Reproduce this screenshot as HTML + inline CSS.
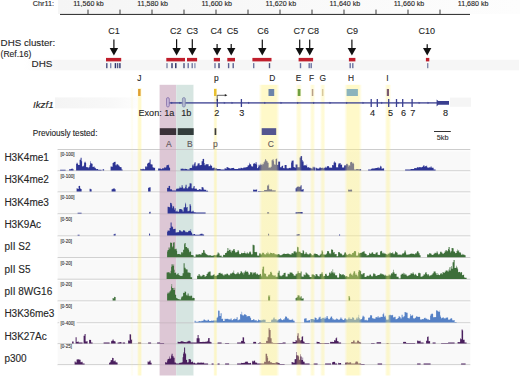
<!DOCTYPE html>
<html><head><meta charset="utf-8"><style>
html,body{margin:0;padding:0;background:#fff;}
svg{display:block;font-family:"Liberation Sans", sans-serif;}
text{stroke-width:0.12px;}
</style></head><body>
<svg width="520" height="377" viewBox="0 0 520 377">
<rect width="520" height="377" fill="#fff"/>
<defs><linearGradient id="rb" x1="0" x2="1" y1="0" y2="0"><stop offset="0" stop-color="#f5f5f5"/><stop offset="0.5" stop-color="#f9f9f9"/><stop offset="1" stop-color="#fdfdfd"/></linearGradient></defs>
<rect x="58" y="0" width="462" height="14" fill="url(#rb)"/>
<defs><linearGradient id="gb" x1="0" x2="1" y1="0" y2="0"><stop offset="0" stop-color="#f6f6f6" stop-opacity="0"/><stop offset="0.07" stop-color="#f6f6f6" stop-opacity="1"/><stop offset="1" stop-color="#f6f6f6"/></linearGradient></defs>
<rect x="24" y="59.8" width="495" height="10.5" fill="url(#gb)"/>
<defs><linearGradient id="gn" x1="0" x2="1" y1="0" y2="0"><stop offset="0" stop-color="#f4f4f4"/><stop offset="0.7" stop-color="#f8f8f8"/><stop offset="1" stop-color="#fdfdfd"/></linearGradient></defs>
<rect x="55" y="97.4" width="82" height="11.0" fill="url(#gn)"/>
<rect x="450" y="97.6" width="21" height="9.2" fill="#f5f5f5"/>
<rect x="57.6" y="149.60" width="412.70" height="21.30" fill="#f9f9f9"/>
<rect x="57.6" y="170.90" width="412.70" height="21.10" fill="#f9f9f9"/>
<rect x="57.6" y="192.00" width="412.70" height="21.90" fill="#f9f9f9"/>
<rect x="57.6" y="213.90" width="412.70" height="22.10" fill="#f9f9f9"/>
<rect x="57.6" y="236.00" width="412.70" height="21.70" fill="#f9f9f9"/>
<rect x="57.6" y="257.70" width="412.70" height="21.60" fill="#f9f9f9"/>
<rect x="57.6" y="279.30" width="412.70" height="21.70" fill="#f9f9f9"/>
<rect x="57.6" y="301.00" width="412.70" height="21.90" fill="#f9f9f9"/>
<rect x="57.6" y="322.90" width="412.70" height="20.90" fill="#f9f9f9"/>
<rect x="57.6" y="343.80" width="412.70" height="21.00" fill="#f9f9f9"/>
<rect x="57.6" y="149.00" width="412.70" height="1.1" fill="#cdcdcd"/>
<rect x="57.6" y="150.10" width="412.70" height="1.2" fill="#fefefe"/>
<rect x="57.6" y="170.30" width="412.70" height="1.1" fill="#cdcdcd"/>
<rect x="57.6" y="171.40" width="412.70" height="1.2" fill="#fefefe"/>
<rect x="57.6" y="191.40" width="412.70" height="1.1" fill="#cdcdcd"/>
<rect x="57.6" y="192.50" width="412.70" height="1.2" fill="#fefefe"/>
<rect x="57.6" y="213.30" width="412.70" height="1.1" fill="#cdcdcd"/>
<rect x="57.6" y="214.40" width="412.70" height="1.2" fill="#fefefe"/>
<rect x="57.6" y="235.40" width="412.70" height="1.1" fill="#cdcdcd"/>
<rect x="57.6" y="236.50" width="412.70" height="1.2" fill="#fefefe"/>
<rect x="57.6" y="257.10" width="412.70" height="1.1" fill="#cdcdcd"/>
<rect x="57.6" y="258.20" width="412.70" height="1.2" fill="#fefefe"/>
<rect x="57.6" y="278.70" width="412.70" height="1.1" fill="#cdcdcd"/>
<rect x="57.6" y="279.80" width="412.70" height="1.2" fill="#fefefe"/>
<rect x="57.6" y="300.40" width="412.70" height="1.1" fill="#cdcdcd"/>
<rect x="57.6" y="301.50" width="412.70" height="1.2" fill="#fefefe"/>
<rect x="57.6" y="322.30" width="412.70" height="1.1" fill="#cdcdcd"/>
<rect x="57.6" y="323.40" width="412.70" height="1.2" fill="#fefefe"/>
<rect x="57.6" y="343.20" width="412.70" height="1.1" fill="#cdcdcd"/>
<rect x="57.6" y="344.30" width="412.70" height="1.2" fill="#fefefe"/>
<rect x="57.6" y="364.20" width="412.70" height="1.1" fill="#cdcdcd"/>
<rect x="57.6" y="365.30" width="412.70" height="1.2" fill="#fefefe"/>
<rect x="159.6" y="84.8" width="16.6" height="290.7" fill="#ddc7d5"/>
<rect x="176.2" y="84.8" width="17.2" height="290.7" fill="#d6e5e1"/>
<rect x="193.4" y="84.8" width="0.6" height="290.7" fill="#eaf2f0"/>
<rect x="159.6" y="149.10" width="34" height="0.9" fill="#b8a8b2" fill-opacity="0.5"/>
<rect x="159.6" y="170.40" width="34" height="0.9" fill="#b8a8b2" fill-opacity="0.5"/>
<rect x="159.6" y="191.50" width="34" height="0.9" fill="#b8a8b2" fill-opacity="0.5"/>
<rect x="159.6" y="213.40" width="34" height="0.9" fill="#b8a8b2" fill-opacity="0.5"/>
<rect x="159.6" y="235.50" width="34" height="0.9" fill="#b8a8b2" fill-opacity="0.5"/>
<rect x="159.6" y="257.20" width="34" height="0.9" fill="#b8a8b2" fill-opacity="0.5"/>
<rect x="159.6" y="278.80" width="34" height="0.9" fill="#b8a8b2" fill-opacity="0.5"/>
<rect x="159.6" y="300.50" width="34" height="0.9" fill="#b8a8b2" fill-opacity="0.5"/>
<rect x="159.6" y="322.40" width="34" height="0.9" fill="#b8a8b2" fill-opacity="0.5"/>
<rect x="159.6" y="343.30" width="34" height="0.9" fill="#b8a8b2" fill-opacity="0.5"/>
<rect x="159.6" y="364.30" width="34" height="0.9" fill="#b8a8b2" fill-opacity="0.5"/>
<path d="M60.10 170.50L60.10 169.80L60.60 169.80L60.60 169.80L61.10 169.80L61.10 169.80L61.60 169.80L61.60 169.80L62.10 169.80L62.10 169.80L62.60 169.80L62.60 169.80L63.10 169.80L63.10 169.80L63.60 169.80L63.60 169.80L64.10 169.80L64.10 169.80L64.60 169.80L64.60 169.80L65.10 169.80L65.10 169.80L65.60 169.80L65.60 170.50ZM69.10 170.50L69.10 169.30L69.60 169.30L69.60 169.30L70.10 169.30L70.10 169.30L70.60 169.30L70.60 169.30L71.10 169.30L71.10 168.97L71.60 168.97L71.60 168.59L72.10 168.59L72.10 168.59L72.60 168.59L72.60 169.30L73.10 169.30L73.10 169.30L73.60 169.30L73.60 170.50ZM76.10 170.50L76.10 164.08L76.60 164.08L76.60 162.66L77.10 162.66L77.10 162.66L77.60 162.66L77.60 163.96L78.10 163.96L78.10 164.96L78.60 164.96L78.60 164.90L79.10 164.90L79.10 164.90L79.60 164.90L79.60 159.76L80.10 159.76L80.10 159.76L80.60 159.76L80.60 157.78L81.10 157.78L81.10 157.78L81.60 157.78L81.60 161.23L82.10 161.23L82.10 166.54L82.60 166.54L82.60 166.33L83.10 166.33L83.10 166.33L83.60 166.33L83.60 165.48L84.10 165.48L84.10 162.77L84.60 162.77L84.60 161.74L85.10 161.74L85.10 161.74L85.60 161.74L85.60 162.94L86.10 162.94L86.10 167.06L86.60 167.06L86.60 167.33L87.10 167.33L87.10 167.33L87.60 167.33L87.60 167.28L88.10 167.28L88.10 167.28L88.60 167.28L88.60 168.37L89.10 168.37L89.10 166.70L89.60 166.70L89.60 165.00L90.10 165.00L90.10 161.15L90.60 161.15L90.60 163.18L91.10 163.18L91.10 163.18L91.60 163.18L91.60 163.70L92.10 163.70L92.10 163.70L92.60 163.70L92.60 166.95L93.10 166.95L93.10 166.95L93.60 166.95L93.60 166.59L94.10 166.59L94.10 166.59L94.60 166.59L94.60 167.79L95.10 167.79L95.10 167.79L95.60 167.79L95.60 168.46L96.10 168.46L96.10 169.28L96.60 169.28L96.60 169.02L97.10 169.02L97.10 169.02L97.60 169.02L97.60 168.99L98.10 168.99L98.10 169.70L98.60 169.70L98.60 169.70L99.10 169.70L99.10 169.70L99.60 169.70L99.60 169.70L100.10 169.70L100.10 169.70L100.60 169.70L100.60 169.70L101.10 169.70L101.10 169.70L101.60 169.70L101.60 170.50ZM102.60 170.50L102.60 169.35L103.10 169.35L103.10 169.35L103.60 169.35L103.60 169.26L104.10 169.26L104.10 170.50ZM110.60 170.50L110.60 166.40L111.10 166.40L111.10 166.40L111.60 166.40L111.60 166.82L112.10 166.82L112.10 166.82L112.60 166.82L112.60 162.91L113.10 162.91L113.10 162.91L113.60 162.91L113.60 161.92L114.10 161.92L114.10 161.92L114.60 161.92L114.60 161.75L115.10 161.75L115.10 161.75L115.60 161.75L115.60 165.30L116.10 165.30L116.10 165.30L116.60 165.30L116.60 164.06L117.10 164.06L117.10 164.06L117.60 164.06L117.60 164.82L118.10 164.82L118.10 164.82L118.60 164.82L118.60 165.87L119.10 165.87L119.10 165.87L119.60 165.87L119.60 167.07L120.10 167.07L120.10 167.07L120.60 167.07L120.60 167.14L121.10 167.14L121.10 167.14L121.60 167.14L121.60 169.50L122.10 169.50L122.10 169.50L122.60 169.50L122.60 170.50ZM140.10 170.50L140.10 168.84L140.60 168.84L140.60 168.93L141.10 168.93L141.10 168.93L141.60 168.93L141.60 169.21L142.10 169.21L142.10 169.21L142.60 169.21L142.60 168.77L143.10 168.77L143.10 168.77L143.60 168.77L143.60 169.32L144.10 169.32L144.10 169.32L144.60 169.32L144.60 169.13L145.10 169.13L145.10 166.84L145.60 166.84L145.60 166.27L146.10 166.27L146.10 166.27L146.60 166.27L146.60 167.28L147.10 167.28L147.10 164.07L147.60 164.07L147.60 162.94L148.10 162.94L148.10 162.94L148.60 162.94L148.60 162.41L149.10 162.41L149.10 162.41L149.60 162.41L149.60 159.58L150.10 159.58L150.10 159.58L150.60 159.58L150.60 164.13L151.10 164.13L151.10 164.13L151.60 164.13L151.60 164.62L152.10 164.62L152.10 164.62L152.60 164.62L152.60 167.18L153.10 167.18L153.10 167.18L153.60 167.18L153.60 167.88L154.10 167.88L154.10 167.88L154.60 167.88L154.60 167.40L155.10 167.40L155.10 170.50ZM158.10 170.50L158.10 168.44L158.60 168.44L158.60 168.52L159.10 168.52L159.10 168.52L159.60 168.52L159.60 168.53L160.10 168.53L160.10 168.53L160.60 168.53L160.60 168.64L161.10 168.64L161.10 169.29L161.60 169.29L161.60 169.08L162.10 169.08L162.10 168.31L162.60 168.31L162.60 168.23L163.10 168.23L163.10 168.23L163.60 168.23L163.60 168.62L164.10 168.62L164.10 167.40L164.60 167.40L164.60 167.14L165.10 167.14L165.10 167.14L165.60 167.14L165.60 167.97L166.10 167.97L166.10 166.52L166.60 166.52L166.60 165.12L167.10 165.12L167.10 165.12L167.60 165.12L167.60 165.24L168.10 165.24L168.10 165.24L168.60 165.24L168.60 164.48L169.10 164.48L169.10 167.61L169.60 167.61L169.60 167.79L170.10 167.79L170.10 170.50ZM180.60 170.50L180.60 168.78L181.10 168.78L181.10 168.78L181.60 168.78L181.60 168.70L182.10 168.70L182.10 168.70L182.60 168.70L182.60 168.46L183.10 168.46L183.10 168.66L183.60 168.66L183.60 169.15L184.10 169.15L184.10 169.15L184.60 169.15L184.60 168.82L185.10 168.82L185.10 168.82L185.60 168.82L185.60 169.04L186.10 169.04L186.10 169.04L186.60 169.04L186.60 169.08L187.10 169.08L187.10 169.50L187.60 169.50L187.60 169.50L188.10 169.50L188.10 169.50L188.60 169.50L188.60 169.50L189.10 169.50L189.10 169.50L189.60 169.50L189.60 168.12L190.10 168.12L190.10 168.12L190.60 168.12L190.60 167.97L191.10 167.97L191.10 167.97L191.60 167.97L191.60 167.79L192.10 167.79L192.10 165.53L192.60 165.53L192.60 164.42L193.10 164.42L193.10 164.42L193.60 164.42L193.60 166.24L194.10 166.24L194.10 163.61L194.60 163.61L194.60 162.23L195.10 162.23L195.10 162.23L195.60 162.23L195.60 166.13L196.10 166.13L196.10 166.13L196.60 166.13L196.60 165.50L197.10 165.50L197.10 165.50L197.60 165.50L197.60 163.45L198.10 163.45L198.10 163.45L198.60 163.45L198.60 163.33L199.10 163.33L199.10 163.33L199.60 163.33L199.60 165.36L200.10 165.36L200.10 165.36L200.60 165.36L200.60 165.01L201.10 165.01L201.10 165.01L201.60 165.01L201.60 161.33L202.10 161.33L202.10 161.33L202.60 161.33L202.60 159.05L203.10 159.05L203.10 159.05L203.60 159.05L203.60 158.73L204.10 158.73L204.10 163.08L204.60 163.08L204.60 165.28L205.10 165.28L205.10 165.28L205.60 165.28L205.60 164.31L206.10 164.31L206.10 164.31L206.60 164.31L206.60 164.14L207.10 164.14L207.10 164.14L207.60 164.14L207.60 164.13L208.10 164.13L208.10 164.13L208.60 164.13L208.60 166.25L209.10 166.25L209.10 166.25L209.60 166.25L209.60 166.06L210.10 166.06L210.10 164.58L210.60 164.58L210.60 165.40L211.10 165.40L211.10 165.40L211.60 165.40L211.60 166.05L212.10 166.05L212.10 168.27L212.60 168.27L212.60 167.75L213.10 167.75L213.10 167.75L213.60 167.75L213.60 167.81L214.10 167.81L214.10 167.81L214.60 167.81L214.60 167.57L215.10 167.57L215.10 168.54L215.60 168.54L215.60 168.22L216.10 168.22L216.10 168.22L216.60 168.22L216.60 168.44L217.10 168.44L217.10 168.95L217.60 168.95L217.60 169.07L218.10 169.07L218.10 169.07L218.60 169.07L218.60 169.00L219.10 169.00L219.10 169.00L219.60 169.00L219.60 168.96L220.10 168.96L220.10 168.96L220.60 168.96L220.60 169.60L221.10 169.60L221.10 169.60L221.60 169.60L221.60 169.60L222.10 169.60L222.10 169.60L222.60 169.60L222.60 169.60L223.10 169.60L223.10 169.60L223.60 169.60L223.60 169.60L224.10 169.60L224.10 169.60L224.60 169.60L224.60 168.35L225.10 168.35L225.10 168.35L225.60 168.35L225.60 168.69L226.10 168.69L226.10 168.69L226.60 168.69L226.60 167.05L227.10 167.05L227.10 167.05L227.60 167.05L227.60 167.52L228.10 167.52L228.10 167.52L228.60 167.52L228.60 167.98L229.10 167.98L229.10 167.98L229.60 167.98L229.60 168.58L230.10 168.58L230.10 168.58L230.60 168.58L230.60 168.58L231.10 168.58L231.10 168.20L231.60 168.20L231.60 168.02L232.10 168.02L232.10 168.02L232.60 168.02L232.60 168.08L233.10 168.08L233.10 168.08L233.60 168.08L233.60 167.85L234.10 167.85L234.10 168.73L234.60 168.73L234.60 168.98L235.10 168.98L235.10 168.98L235.60 168.98L235.60 169.02L236.10 169.02L236.10 169.02L236.60 169.02L236.60 168.89L237.10 168.89L237.10 168.89L237.60 168.89L237.60 168.93L238.10 168.93L238.10 168.54L238.60 168.54L238.60 168.27L239.10 168.27L239.10 168.27L239.60 168.27L239.60 168.62L240.10 168.62L240.10 168.62L240.60 168.62L240.60 167.73L241.10 167.73L241.10 167.73L241.60 167.73L241.60 168.01L242.10 168.01L242.10 168.01L242.60 168.01L242.60 168.49L243.10 168.49L243.10 167.69L243.60 167.69L243.60 167.54L244.10 167.54L244.10 167.54L244.60 167.54L244.60 167.40L245.10 167.40L245.10 167.40L245.60 167.40L245.60 167.37L246.10 167.37L246.10 167.37L246.60 167.37L246.60 166.94L247.10 166.94L247.10 166.94L247.60 166.94L247.60 165.57L248.10 165.57L248.10 165.57L248.60 165.57L248.60 165.29L249.10 165.29L249.10 162.75L249.60 162.75L249.60 164.23L250.10 164.23L250.10 164.23L250.60 164.23L250.60 164.18L251.10 164.18L251.10 165.78L251.60 165.78L251.60 166.62L252.10 166.62L252.10 166.62L252.60 166.62L252.60 166.59L253.10 166.59L253.10 164.08L253.60 164.08L253.60 163.25L254.10 163.25L254.10 163.25L254.60 163.25L254.60 163.52L255.10 163.52L255.10 164.12L255.60 164.12L255.60 162.34L256.10 162.34L256.10 162.34L256.60 162.34L256.60 164.44L257.10 164.44L257.10 168.08L257.60 168.08L257.60 168.25L258.10 168.25L258.10 166.75L258.60 166.75L258.60 164.80L259.10 164.80L259.10 164.80L259.60 164.80L259.60 165.69L260.10 165.69L260.10 163.77L260.60 163.77L260.60 164.89L261.10 164.89L261.10 164.89L261.60 164.89L261.60 163.72L262.10 163.72L262.10 163.72L262.60 163.72L262.60 165.24L263.10 165.24L263.10 164.11L263.60 164.11L263.60 162.32L264.10 162.32L264.10 162.32L264.60 162.32L264.60 160.72L265.10 160.72L265.10 158.99L265.60 158.99L265.60 159.47L266.10 159.47L266.10 160.58L266.60 160.58L266.60 161.21L267.10 161.21L267.10 161.21L267.60 161.21L267.60 162.85L268.10 162.85L268.10 162.85L268.60 162.85L268.60 167.82L269.10 167.82L269.10 167.37L269.60 167.37L269.60 167.66L270.10 167.66L270.10 167.66L270.60 167.66L270.60 166.78L271.10 166.78L271.10 166.78L271.60 166.78L271.60 160.28L272.10 160.28L272.10 160.28L272.60 160.28L272.60 159.19L273.10 159.19L273.10 159.19L273.60 159.19L273.60 161.19L274.10 161.19L274.10 164.35L274.60 164.35L274.60 164.66L275.10 164.66L275.10 164.66L275.60 164.66L275.60 159.04L276.10 159.04L276.10 159.04L276.60 159.04L276.60 158.27L277.10 158.27L277.10 164.73L277.60 164.73L277.60 165.01L278.10 165.01L278.10 161.50L278.60 161.50L278.60 161.66L279.10 161.66L279.10 161.66L279.60 161.66L279.60 161.61L280.10 161.61L280.10 167.25L280.60 167.25L280.60 167.35L281.10 167.35L281.10 167.35L281.60 167.35L281.60 166.07L282.10 166.07L282.10 166.07L282.60 166.07L282.60 165.43L283.10 165.43L283.10 168.11L283.60 168.11L283.60 168.28L284.10 168.28L284.10 168.28L284.60 168.28L284.60 165.08L285.10 165.08L285.10 165.08L285.60 165.08L285.60 165.09L286.10 165.09L286.10 165.09L286.60 165.09L286.60 168.36L287.10 168.36L287.10 168.36L287.60 168.36L287.60 168.38L288.10 168.38L288.10 168.38L288.60 168.38L288.60 167.92L289.10 167.92L289.10 167.92L289.60 167.92L289.60 167.65L290.10 167.65L290.10 167.65L290.60 167.65L290.60 168.18L291.10 168.18L291.10 162.43L291.60 162.43L291.60 160.64L292.10 160.64L292.10 160.64L292.60 160.64L292.60 160.45L293.10 160.45L293.10 160.45L293.60 160.45L293.60 167.08L294.10 167.08L294.10 167.08L294.60 167.08L294.60 167.82L295.10 167.82L295.10 167.82L295.60 167.82L295.60 164.51L296.10 164.51L296.10 164.51L296.60 164.51L296.60 164.49L297.10 164.49L297.10 164.49L297.60 164.49L297.60 167.21L298.10 167.21L298.10 167.21L298.60 167.21L298.60 167.20L299.10 167.20L299.10 167.20L299.60 167.20L299.60 157.47L300.10 157.47L300.10 157.47L300.60 157.47L300.60 155.96L301.10 155.96L301.10 155.96L301.60 155.96L301.60 156.29L302.10 156.29L302.10 160.01L302.60 160.01L302.60 161.46L303.10 161.46L303.10 161.46L303.60 161.46L303.60 165.43L304.10 165.43L304.10 165.43L304.60 165.43L304.60 165.12L305.10 165.12L305.10 165.12L305.60 165.12L305.60 165.85L306.10 165.85L306.10 165.85L306.60 165.85L306.60 164.40L307.10 164.40L307.10 167.45L307.60 167.45L307.60 167.13L308.10 167.13L308.10 167.13L308.60 167.13L308.60 167.29L309.10 167.29L309.10 167.83L309.60 167.83L309.60 167.86L310.10 167.86L310.10 167.86L310.60 167.86L310.60 168.15L311.10 168.15L311.10 168.15L311.60 168.15L311.60 168.46L312.10 168.46L312.10 168.46L312.60 168.46L312.60 166.75L313.10 166.75L313.10 166.75L313.60 166.75L313.60 167.42L314.10 167.42L314.10 167.42L314.60 167.42L314.60 166.73L315.10 166.73L315.10 170.50ZM315.60 170.50L315.60 167.63L316.10 167.63L316.10 167.63L316.60 167.63L316.60 168.23L317.10 168.23L317.10 168.23L317.60 168.23L317.60 168.68L318.10 168.68L318.10 168.68L318.60 168.68L318.60 168.22L319.10 168.22L319.10 168.22L319.60 168.22L319.60 167.37L320.10 167.37L320.10 167.37L320.60 167.37L320.60 168.07L321.10 168.07L321.10 168.07L321.60 168.07L321.60 167.72L322.10 167.72L322.10 167.72L322.60 167.72L322.60 167.69L323.10 167.69L323.10 168.49L323.60 168.49L323.60 167.70L324.10 167.70L324.10 167.70L324.60 167.70L324.60 167.80L325.10 167.80L325.10 166.72L325.60 166.72L325.60 167.70L326.10 167.70L326.10 167.70L326.60 167.70L326.60 166.70L327.10 166.70L327.10 166.15L327.60 166.15L327.60 165.89L328.10 165.89L328.10 165.89L328.60 165.89L328.60 166.44L329.10 166.44L329.10 167.45L329.60 167.45L329.60 167.84L330.10 167.84L330.10 167.84L330.60 167.84L330.60 167.59L331.10 167.59L331.10 167.59L331.60 167.59L331.60 168.11L332.10 168.11L332.10 164.93L332.60 164.93L332.60 165.28L333.10 165.28L333.10 165.28L333.60 165.28L333.60 162.47L334.10 162.47L334.10 161.32L334.60 161.32L334.60 162.40L335.10 162.40L335.10 162.40L335.60 162.40L335.60 162.81L336.10 162.81L336.10 167.62L336.60 167.62L336.60 167.10L337.10 167.10L337.10 167.10L337.60 167.10L337.60 167.73L338.10 167.73L338.10 164.51L338.60 164.51L338.60 163.31L339.10 163.31L339.10 163.31L339.60 163.31L339.60 163.43L340.10 163.43L340.10 162.89L340.60 162.89L340.60 164.70L341.10 164.70L341.10 164.70L341.60 164.70L341.60 164.58L342.10 164.58L342.10 167.54L342.60 167.54L342.60 167.48L343.10 167.48L343.10 167.48L343.60 167.48L343.60 167.56L344.10 167.56L344.10 165.87L344.60 165.87L344.60 165.08L345.10 165.08L345.10 165.08L345.60 165.08L345.60 165.83L346.10 165.83L346.10 164.13L346.60 164.13L346.60 163.63L347.10 163.63L347.10 163.63L347.60 163.63L347.60 164.54L348.10 164.54L348.10 166.52L348.60 166.52L348.60 164.89L349.10 164.89L349.10 164.89L349.60 164.89L349.60 166.06L350.10 166.06L350.10 162.50L350.60 162.50L350.60 162.11L351.10 162.11L351.10 162.11L351.60 162.11L351.60 161.63L352.10 161.63L352.10 163.60L352.60 163.60L352.60 162.66L353.10 162.66L353.10 162.66L353.60 162.66L353.60 164.08L354.10 164.08L354.10 169.50L354.60 169.50L354.60 169.50L355.10 169.50L355.10 169.50L355.60 169.50L355.60 169.50L356.10 169.50L356.10 169.07L356.60 169.07L356.60 169.05L357.10 169.05L357.10 169.05L357.60 169.05L357.60 169.06L358.10 169.06L358.10 169.06L358.60 169.06L358.60 169.38L359.10 169.38L359.10 169.38L359.60 169.38L359.60 169.11L360.10 169.11L360.10 169.11L360.60 169.11L360.60 169.27L361.10 169.27L361.10 170.50ZM368.10 170.50L368.10 169.50L368.60 169.50L368.60 169.50L369.10 169.50L369.10 169.50L369.60 169.50L369.60 169.50L370.10 169.50L370.10 169.50L370.60 169.50L370.60 169.50L371.10 169.50L371.10 168.88L371.60 168.88L371.60 168.62L372.10 168.62L372.10 168.62L372.60 168.62L372.60 168.41L373.10 168.41L373.10 168.41L373.60 168.41L373.60 168.55L374.10 168.55L374.10 168.55L374.60 168.55L374.60 168.31L375.10 168.31L375.10 168.31L375.60 168.31L375.60 168.11L376.10 168.11L376.10 168.11L376.60 168.11L376.60 168.07L377.10 168.07L377.10 168.07L377.60 168.07L377.60 167.29L378.10 167.29L378.10 167.29L378.60 167.29L378.60 168.15L379.10 168.15L379.10 168.15L379.60 168.15L379.60 167.57L380.10 167.57L380.10 165.82L380.60 165.82L380.60 166.45L381.10 166.45L381.10 166.45L381.60 166.45L381.60 168.79L382.10 168.79L382.10 168.79L382.60 168.79L382.60 168.37L383.10 168.37L383.10 168.37L383.60 168.37L383.60 168.59L384.10 168.59L384.10 170.50ZM405.10 170.50L405.10 169.50L405.60 169.50L405.60 169.50L406.10 169.50L406.10 169.50L406.60 169.50L406.60 169.50L407.10 169.50L407.10 169.50L407.60 169.50L407.60 169.50L408.10 169.50L408.10 169.50L408.60 169.50L408.60 169.50L409.10 169.50L409.10 169.50L409.60 169.50L409.60 169.50L410.10 169.50L410.10 169.50L410.60 169.50L410.60 169.07L411.10 169.07L411.10 169.07L411.60 169.07L411.60 169.07L412.10 169.07L412.10 169.07L412.60 169.07L412.60 168.95L413.10 168.95L413.10 168.95L413.60 168.95L413.60 169.11L414.10 169.11L414.10 168.18L414.60 168.18L414.60 168.09L415.10 168.09L415.10 168.09L415.60 168.09L415.60 168.15L416.10 168.15L416.10 168.15L416.60 168.15L416.60 167.66L417.10 167.66L417.10 167.09L417.60 167.09L417.60 167.40L418.10 167.40L418.10 167.40L418.60 167.40L418.60 167.18L419.10 167.18L419.10 167.18L419.60 167.18L419.60 167.09L420.10 167.09L420.10 167.09L420.60 167.09L420.60 167.53L421.10 167.53L421.10 167.53L421.60 167.53L421.60 167.09L422.10 167.09L422.10 167.09L422.60 167.09L422.60 166.52L423.10 166.52L423.10 165.39L423.60 165.39L423.60 165.58L424.10 165.58L424.10 165.58L424.60 165.58L424.60 166.91L425.10 166.91L425.10 166.11L425.60 166.11L425.60 166.15L426.10 166.15L426.10 166.15L426.60 166.15L426.60 165.41L427.10 165.41L427.10 167.26L427.60 167.26L427.60 167.80L428.10 167.80L428.10 167.80L428.60 167.80L428.60 167.56L429.10 167.56L429.10 167.14L429.60 167.14L429.60 167.42L430.10 167.42L430.10 167.42L430.60 167.42L430.60 166.42L431.10 166.42L431.10 166.42L431.60 166.42L431.60 167.83L432.10 167.83L432.10 167.83L432.60 167.83L432.60 167.71L433.10 167.71L433.10 167.71L433.60 167.71L433.60 169.50L434.10 169.50L434.10 169.50L434.60 169.50L434.60 169.50L435.10 169.50L435.10 169.50L435.60 169.50L435.60 170.50Z" fill="#2d3494"/>
<path d="M76.60 191.60L76.60 188.34L77.10 188.34L77.10 188.34L77.60 188.34L77.60 189.04L78.10 189.04L78.10 189.04L78.60 189.04L78.60 185.93L79.10 185.93L79.10 185.93L79.60 185.93L79.60 185.75L80.10 185.75L80.10 188.16L80.60 188.16L80.60 189.10L81.10 189.10L81.10 189.10L81.60 189.10L81.60 191.60ZM89.60 191.60L89.60 188.75L90.10 188.75L90.10 188.75L90.60 188.75L90.60 189.33L91.10 189.33L91.10 189.33L91.60 189.33L91.60 191.60ZM111.60 191.60L111.60 189.24L112.10 189.24L112.10 189.24L112.60 189.24L112.60 188.71L113.10 188.71L113.10 188.71L113.60 188.71L113.60 188.33L114.10 188.33L114.10 188.33L114.60 188.33L114.60 189.18L115.10 189.18L115.10 189.18L115.60 189.18L115.60 191.60ZM148.10 191.60L148.10 187.96L148.60 187.96L148.60 187.45L149.10 187.45L149.10 187.45L149.60 187.45L149.60 187.30L150.10 187.30L150.10 187.30L150.60 187.30L150.60 191.60ZM167.10 191.60L167.10 187.77L167.60 187.77L167.60 188.07L168.10 188.07L168.10 188.07L168.60 188.07L168.60 186.01L169.10 186.01L169.10 186.01L169.60 186.01L169.60 185.66L170.10 185.66L170.10 189.42L170.60 189.42L170.60 188.99L171.10 188.99L171.10 188.99L171.60 188.99L171.60 189.73L172.10 189.73L172.10 190.60L172.60 190.60L172.60 190.60L173.10 190.60L173.10 190.60L173.60 190.60L173.60 190.60L174.10 190.60L174.10 190.60L174.60 190.60L174.60 190.60L175.10 190.60L175.10 190.60L175.60 190.60L175.60 190.60L176.10 190.60L176.10 188.96L176.60 188.96L176.60 188.59L177.10 188.59L177.10 188.59L177.60 188.59L177.60 188.73L178.10 188.73L178.10 188.73L178.60 188.73L178.60 188.15L179.10 188.15L179.10 188.15L179.60 188.15L179.60 186.41L180.10 186.41L180.10 187.56L180.60 187.56L180.60 187.85L181.10 187.85L181.10 187.85L181.60 187.85L181.60 185.29L182.10 185.29L182.10 185.29L182.60 185.29L182.60 187.29L183.10 187.29L183.10 188.46L183.60 188.46L183.60 188.19L184.10 188.19L184.10 188.19L184.60 188.19L184.60 188.57L185.10 188.57L185.10 186.68L185.60 186.68L185.60 184.66L186.10 184.66L186.10 184.66L186.60 184.66L186.60 188.19L187.10 188.19L187.10 188.19L187.60 188.19L187.60 188.42L188.10 188.42L188.10 187.23L188.60 187.23L188.60 186.55L189.10 186.55L189.10 186.55L189.60 186.55L189.60 183.29L190.10 183.29L190.10 183.29L190.60 183.29L190.60 183.58L191.10 183.58L191.10 183.58L191.60 183.58L191.60 188.21L192.10 188.21L192.10 188.21L192.60 188.21L192.60 188.39L193.10 188.39L193.10 187.59L193.60 187.59L193.60 185.97L194.10 185.97L194.10 185.97L194.60 185.97L194.60 188.66L195.10 188.66L195.10 188.66L195.60 188.66L195.60 188.50L196.10 188.50L196.10 188.50L196.60 188.50L196.60 189.27L197.10 189.27L197.10 190.04L197.60 190.04L197.60 190.07L198.10 190.07L198.10 190.07L198.60 190.07L198.60 189.54L199.10 189.54L199.10 189.03L199.60 189.03L199.60 189.30L200.10 189.30L200.10 189.30L200.60 189.30L200.60 189.67L201.10 189.67L201.10 189.67L201.60 189.67L201.60 187.06L202.10 187.06L202.10 187.06L202.60 187.06L202.60 187.57L203.10 187.57L203.10 187.57L203.60 187.57L203.60 189.45L204.10 189.45L204.10 189.45L204.60 189.45L204.60 190.05L205.10 190.05L205.10 190.05L205.60 190.05L205.60 189.40L206.10 189.40L206.10 190.80L206.60 190.80L206.60 190.80L207.10 190.80L207.10 190.80L207.60 190.80L207.60 190.80L208.10 190.80L208.10 191.60ZM253.10 191.60L253.10 189.40L253.60 189.40L253.60 189.74L254.10 189.74L254.10 189.74L254.60 189.74L254.60 189.84L255.10 189.84L255.10 189.84L255.60 189.84L255.60 189.66L256.10 189.66L256.10 189.66L256.60 189.66L256.60 189.34L257.10 189.34L257.10 191.60ZM258.10 191.60L258.10 191.10L258.60 191.10L258.60 191.10L259.10 191.10L259.10 191.10L259.60 191.10L259.60 191.10L260.10 191.10L260.10 191.10L260.60 191.10L260.60 191.10L261.10 191.10L261.10 191.10L261.60 191.10L261.60 191.10L262.10 191.10L262.10 191.10L262.60 191.10L262.60 191.10L263.10 191.10L263.10 191.10L263.60 191.10L263.60 191.10L264.10 191.10L264.10 189.98L264.60 189.98L264.60 190.08L265.10 190.08L265.10 190.08L265.60 190.08L265.60 189.95L266.10 189.95L266.10 189.95L266.60 189.95L266.60 189.86L267.10 189.86L267.10 185.50L267.60 185.50L267.60 185.52L268.10 185.52L268.10 185.52L268.60 185.52L268.60 184.19L269.10 184.19L269.10 188.95L269.60 188.95L269.60 189.45L270.10 189.45L270.10 189.45L270.60 189.45L270.60 189.22L271.10 189.22L271.10 189.22L271.60 189.22L271.60 189.56L272.10 189.56L272.10 190.38L272.60 190.38L272.60 190.27L273.10 190.27L273.10 190.27L273.60 190.27L273.60 190.48L274.10 190.48L274.10 190.48L274.60 190.48L274.60 190.33L275.10 190.33L275.10 190.33L275.60 190.33L275.60 191.60ZM295.60 191.60L295.60 188.24L296.10 188.24L296.10 188.24L296.60 188.24L296.60 186.88L297.10 186.88L297.10 186.88L297.60 186.88L297.60 186.26L298.10 186.26L298.10 186.26L298.60 186.26L298.60 187.09L299.10 187.09L299.10 187.09L299.60 187.09L299.60 186.43L300.10 186.43L300.10 186.43L300.60 186.43L300.60 185.37L301.10 185.37L301.10 185.37L301.60 185.37L301.60 189.64L302.10 189.64L302.10 189.64L302.60 189.64L302.60 188.89L303.10 188.89L303.10 188.89L303.60 188.89L303.60 191.60ZM348.10 191.60L348.10 189.43L348.60 189.43L348.60 189.76L349.10 189.76L349.10 189.76L349.60 189.76L349.60 189.70L350.10 189.70L350.10 189.70L350.60 189.70L350.60 189.42L351.10 189.42L351.10 189.42L351.60 189.42L351.60 189.79L352.10 189.79L352.10 191.60Z" fill="#2d3494"/>
<path d="M77.60 213.50L77.60 212.70L78.10 212.70L78.10 212.70L78.60 212.70L78.60 212.70L79.10 212.70L79.10 212.70L79.60 212.70L79.60 212.70L80.10 212.70L80.10 212.70L80.60 212.70L80.60 212.70L81.10 212.70L81.10 212.70L81.60 212.70L81.60 213.50ZM149.10 213.50L149.10 212.17L149.60 212.17L149.60 211.87L150.10 211.87L150.10 211.87L150.60 211.87L150.60 213.50ZM167.60 213.50L167.60 206.76L168.10 206.76L168.10 206.76L168.60 206.76L168.60 206.95L169.10 206.95L169.10 206.95L169.60 206.95L169.60 207.59L170.10 207.59L170.10 202.67L170.60 202.67L170.60 202.96L171.10 202.96L171.10 202.96L171.60 202.96L171.60 204.42L172.10 204.42L172.10 208.16L172.60 208.16L172.60 206.19L173.10 206.19L173.10 206.19L173.60 206.19L173.60 206.42L174.10 206.42L174.10 209.65L174.60 209.65L174.60 208.24L175.10 208.24L175.10 208.24L175.60 208.24L175.60 211.38L176.10 211.38L176.10 211.38L176.60 211.38L176.60 210.67L177.10 210.67L177.10 210.67L177.60 210.67L177.60 211.95L178.10 211.95L178.10 211.95L178.60 211.95L178.60 211.31L179.10 211.31L179.10 209.13L179.60 209.13L179.60 209.08L180.10 209.08L180.10 209.08L180.60 209.08L180.60 208.90L181.10 208.90L181.10 208.90L181.60 208.90L181.60 209.64L182.10 209.64L182.10 209.64L182.60 209.64L182.60 211.40L183.10 211.40L183.10 211.40L183.60 211.40L183.60 207.46L184.10 207.46L184.10 207.46L184.60 207.46L184.60 206.97L185.10 206.97L185.10 202.77L185.60 202.77L185.60 204.23L186.10 204.23L186.10 207.86L186.60 207.86L186.60 207.01L187.10 207.01L187.10 207.01L187.60 207.01L187.60 211.37L188.10 211.37L188.10 211.37L188.60 211.37L188.60 210.64L189.10 210.64L189.10 210.64L189.60 210.64L189.60 204.31L190.10 204.31L190.10 204.31L190.60 204.31L190.60 205.74L191.10 205.74L191.10 211.56L191.60 211.56L191.60 211.81L192.10 211.81L192.10 211.39L192.60 211.39L192.60 210.64L193.10 210.64L193.10 210.64L193.60 210.64L193.60 212.19L194.10 212.19L194.10 212.19L194.60 212.19L194.60 212.17L195.10 212.17L195.10 212.17L195.60 212.17L195.60 212.39L196.10 212.39L196.10 212.50L196.60 212.50L196.60 212.50L197.10 212.50L197.10 212.50L197.60 212.50L197.60 212.50L198.10 212.50L198.10 212.50L198.60 212.50L198.60 212.50L199.10 212.50L199.10 212.50L199.60 212.50L199.60 212.50L200.10 212.50L200.10 212.50L200.60 212.50L200.60 212.50L201.10 212.50L201.10 212.50L201.60 212.50L201.60 212.50L202.10 212.50L202.10 212.50L202.60 212.50L202.60 212.50L203.10 212.50L203.10 212.50L203.60 212.50L203.60 212.50L204.10 212.50L204.10 212.50L204.60 212.50L204.60 212.50L205.10 212.50L205.10 212.50L205.60 212.50L205.60 213.50ZM267.10 213.50L267.10 212.30L267.60 212.30L267.60 212.30L268.10 212.30L268.10 212.30L268.60 212.30L268.60 212.30L269.10 212.30L269.10 213.50ZM295.60 213.50L295.60 212.20L296.10 212.20L296.10 212.20L296.60 212.20L296.60 212.24L297.10 212.24L297.10 212.24L297.60 212.24L297.60 212.02L298.10 212.02L298.10 212.02L298.60 212.02L298.60 212.06L299.10 212.06L299.10 212.06L299.60 212.06L299.60 211.92L300.10 211.92L300.10 211.92L300.60 211.92L300.60 211.98L301.10 211.98L301.10 211.98L301.60 211.98L301.60 211.94L302.10 211.94L302.10 211.94L302.60 211.94L302.60 213.50Z" fill="#2d3494"/>
<path d="M77.60 235.60L77.60 234.80L78.10 234.80L78.10 234.80L78.60 234.80L78.60 234.80L79.10 234.80L79.10 234.80L79.60 234.80L79.60 235.60ZM113.60 235.60L113.60 234.28L114.10 234.28L114.10 234.28L114.60 234.28L114.60 233.87L115.10 233.87L115.10 233.87L115.60 233.87L115.60 235.60ZM149.10 235.60L149.10 233.29L149.60 233.29L149.60 233.99L150.10 233.99L150.10 235.60ZM167.10 235.60L167.10 231.75L167.60 231.75L167.60 230.59L168.10 230.59L168.10 230.59L168.60 230.59L168.60 230.75L169.10 230.75L169.10 230.75L169.60 230.75L169.60 228.02L170.10 228.02L170.10 228.02L170.60 228.02L170.60 222.51L171.10 222.51L171.10 222.51L171.60 222.51L171.60 226.46L172.10 226.46L172.10 226.46L172.60 226.46L172.60 227.37L173.10 227.37L173.10 229.28L173.60 229.28L173.60 229.00L174.10 229.00L174.10 229.00L174.60 229.00L174.60 228.79L175.10 228.79L175.10 228.79L175.60 228.79L175.60 232.41L176.10 232.41L176.10 232.41L176.60 232.41L176.60 232.34L177.10 232.34L177.10 232.34L177.60 232.34L177.60 232.36L178.10 232.36L178.10 232.36L178.60 232.36L178.60 231.89L179.10 231.89L179.10 230.15L179.60 230.15L179.60 230.21L180.10 230.21L180.10 230.21L180.60 230.21L180.60 231.25L181.10 231.25L181.10 231.25L181.60 231.25L181.60 231.66L182.10 231.66L182.10 231.66L182.60 231.66L182.60 231.14L183.10 231.14L183.10 230.03L183.60 230.03L183.60 230.47L184.10 230.47L184.10 230.47L184.60 230.47L184.60 230.44L185.10 230.44L185.10 231.48L185.60 231.48L185.60 232.25L186.10 232.25L186.10 231.84L186.60 231.84L186.60 232.21L187.10 232.21L187.10 232.21L187.60 232.21L187.60 232.02L188.10 232.02L188.10 231.22L188.60 231.22L188.60 230.70L189.10 230.70L189.10 230.43L189.60 230.43L189.60 231.05L190.10 231.05L190.10 231.05L190.60 231.05L190.60 229.27L191.10 229.27L191.10 232.33L191.60 232.33L191.60 232.68L192.10 232.68L192.10 234.60L192.60 234.60L192.60 234.60L193.10 234.60L193.10 234.60L193.60 234.60L193.60 234.10L194.10 234.10L194.10 234.10L194.60 234.10L194.60 234.06L195.10 234.06L195.10 234.80L195.60 234.80L195.60 234.80L196.10 234.80L196.10 234.80L196.60 234.80L196.60 234.80L197.10 234.80L197.10 234.80L197.60 234.80L197.60 234.80L198.10 234.80L198.10 234.80L198.60 234.80L198.60 234.80L199.10 234.80L199.10 234.80L199.60 234.80L199.60 234.17L200.10 234.17L200.10 234.17L200.60 234.17L200.60 233.86L201.10 233.86L201.10 233.86L201.60 233.86L201.60 233.77L202.10 233.77L202.10 233.77L202.60 233.77L202.60 234.40L203.10 234.40L203.10 234.40L203.60 234.40L203.60 234.40L204.10 234.40L204.10 235.60ZM268.10 235.60L268.10 233.50L268.60 233.50L268.60 233.91L269.10 233.91L269.10 235.60ZM296.60 235.60L296.60 234.44L297.10 234.44L297.10 234.44L297.60 234.44L297.60 234.32L298.10 234.32L298.10 234.32L298.60 234.32L298.60 234.03L299.10 234.03L299.10 234.03L299.60 234.03L299.60 235.60ZM339.10 235.60L339.10 234.60L339.60 234.60L339.60 234.60L340.10 234.60L340.10 235.60Z" fill="#2d3494"/>
<path d="M167.10 257.30L167.10 251.60L167.60 251.60L167.60 250.05L168.10 250.05L168.10 250.05L168.60 250.05L168.60 247.53L169.10 247.53L169.10 247.53L169.60 247.53L169.60 249.25L170.10 249.25L170.10 242.33L170.60 242.33L170.60 243.07L171.10 243.07L171.10 243.07L171.60 243.07L171.60 242.43L172.10 242.43L172.10 247.14L172.60 247.14L172.60 246.21L173.10 246.21L173.10 242.71L173.60 242.71L173.60 242.22L174.10 242.22L174.10 242.22L174.60 242.22L174.60 249.31L175.10 249.31L175.10 249.31L175.60 249.31L175.60 248.72L176.10 248.72L176.10 248.72L176.60 248.72L176.60 250.73L177.10 250.73L177.10 254.21L177.60 254.21L177.60 254.09L178.10 254.09L178.10 254.09L178.60 254.09L178.60 253.91L179.10 253.91L179.10 253.91L179.60 253.91L179.60 254.14L180.10 254.14L180.10 254.14L180.60 254.14L180.60 254.70L181.10 254.70L181.10 252.53L181.60 252.53L181.60 251.92L182.10 251.92L182.10 251.92L182.60 251.92L182.60 253.20L183.10 253.20L183.10 249.85L183.60 249.85L183.60 249.65L184.10 249.65L184.10 244.36L184.60 244.36L184.60 242.89L185.10 242.89L185.10 242.89L185.60 242.89L185.60 247.08L186.10 247.08L186.10 247.08L186.60 247.08L186.60 246.99L187.10 246.99L187.10 248.23L187.60 248.23L187.60 248.29L188.10 248.29L188.10 248.29L188.60 248.29L188.60 249.71L189.10 249.71L189.10 252.13L189.60 252.13L189.60 251.56L190.10 251.56L190.10 251.56L190.60 251.56L190.60 251.69L191.10 251.69L191.10 254.96L191.60 254.96L191.60 254.96L192.10 254.96L192.10 254.96L192.60 254.96L192.60 255.33L193.10 255.33L193.10 255.33L193.60 255.33L193.60 256.80L194.10 256.80L194.10 256.80L194.60 256.80L194.60 256.80L195.10 256.80L195.10 256.80L195.60 256.80L195.60 254.42L196.10 254.42L196.10 254.42L196.60 254.42L196.60 254.47L197.10 254.47L197.10 254.47L197.60 254.47L197.60 254.68L198.10 254.68L198.10 254.68L198.60 254.68L198.60 254.04L199.10 254.04L199.10 254.04L199.60 254.04L199.60 254.59L200.10 254.59L200.10 254.59L200.60 254.59L200.60 254.43L201.10 254.43L201.10 254.43L201.60 254.43L201.60 252.66L202.10 252.66L202.10 252.66L202.60 252.66L202.60 253.04L203.10 253.04L203.10 250.05L203.60 250.05L203.60 250.26L204.10 250.26L204.10 250.26L204.60 250.26L204.60 252.75L205.10 252.75L205.10 252.75L205.60 252.75L205.60 253.99L206.10 253.99L206.10 253.99L206.60 253.99L206.60 254.84L207.10 254.84L207.10 254.84L207.60 254.84L207.60 255.30L208.10 255.30L208.10 255.30L208.60 255.30L208.60 255.38L209.10 255.38L209.10 255.38L209.60 255.38L209.60 255.02L210.10 255.02L210.10 255.02L210.60 255.02L210.60 255.71L211.10 255.71L211.10 255.71L211.60 255.71L211.60 255.67L212.10 255.67L212.10 255.67L212.60 255.67L212.60 255.87L213.10 255.87L213.10 255.87L213.60 255.87L213.60 255.08L214.10 255.08L214.10 255.08L214.60 255.08L214.60 255.23L215.10 255.23L215.10 255.23L215.60 255.23L215.60 255.21L216.10 255.21L216.10 255.21L216.60 255.21L216.60 254.51L217.10 254.51L217.10 254.51L217.60 254.51L217.60 252.58L218.10 252.58L218.10 252.58L218.60 252.58L218.60 253.55L219.10 253.55L219.10 253.55L219.60 253.55L219.60 255.82L220.10 255.82L220.10 255.82L220.60 255.82L220.60 255.41L221.10 255.41L221.10 255.41L221.60 255.41L221.60 256.80L222.10 256.80L222.10 256.80L222.60 256.80L222.60 256.80L223.10 256.80L223.10 254.70L223.60 254.70L223.60 254.90L224.10 254.90L224.10 254.90L224.60 254.90L224.60 254.65L225.10 254.65L225.10 252.88L225.60 252.88L225.60 252.94L226.10 252.94L226.10 252.94L226.60 252.94L226.60 251.84L227.10 251.84L227.10 248.01L227.60 248.01L227.60 251.00L228.10 251.00L228.10 251.00L228.60 251.00L228.60 248.33L229.10 248.33L229.10 249.91L229.60 249.91L229.60 249.65L230.10 249.65L230.10 249.65L230.60 249.65L230.60 251.77L231.10 251.77L231.10 252.56L231.60 252.56L231.60 250.53L232.10 250.53L232.10 250.53L232.60 250.53L232.60 251.06L233.10 251.06L233.10 249.50L233.60 249.50L233.60 248.91L234.10 248.91L234.10 248.91L234.60 248.91L234.60 250.84L235.10 250.84L235.10 252.56L235.60 252.56L235.60 252.37L236.10 252.37L236.10 252.37L236.60 252.37L236.60 252.32L237.10 252.32L237.10 251.87L237.60 251.87L237.60 250.34L238.10 250.34L238.10 250.34L238.60 250.34L238.60 251.38L239.10 251.38L239.10 253.84L239.60 253.84L239.60 254.18L240.10 254.18L240.10 254.18L240.60 254.18L240.60 254.08L241.10 254.08L241.10 252.70L241.60 252.70L241.60 253.02L242.10 253.02L242.10 253.02L242.60 253.02L242.60 253.50L243.10 253.50L243.10 253.12L243.60 253.12L243.60 253.00L244.10 253.00L244.10 253.00L244.60 253.00L244.60 251.30L245.10 251.30L245.10 252.94L245.60 252.94L245.60 253.86L246.10 253.86L246.10 253.86L246.60 253.86L246.60 252.77L247.10 252.77L247.10 252.20L247.60 252.20L247.60 253.50L248.10 253.50L248.10 253.50L248.60 253.50L248.60 253.47L249.10 253.47L249.10 252.19L249.60 252.19L249.60 251.57L250.10 251.57L250.10 251.57L250.60 251.57L250.60 252.38L251.10 252.38L251.10 254.43L251.60 254.43L251.60 254.16L252.10 254.16L252.10 254.16L252.60 254.16L252.60 244.86L253.10 244.86L253.10 244.86L253.60 244.86L253.60 245.19L254.10 245.19L254.10 245.19L254.60 245.19L254.60 251.89L255.10 251.89L255.10 251.89L255.60 251.89L255.60 252.28L256.10 252.28L256.10 252.28L256.60 252.28L256.60 251.68L257.10 251.68L257.10 255.61L257.60 255.61L257.60 255.60L258.10 255.60L258.10 255.60L258.60 255.60L258.60 255.84L259.10 255.84L259.10 253.42L259.60 253.42L259.60 253.13L260.10 253.13L260.10 253.13L260.60 253.13L260.60 254.26L261.10 254.26L261.10 254.64L261.60 254.64L261.60 253.63L262.10 253.63L262.10 252.59L262.60 252.59L262.60 253.12L263.10 253.12L263.10 253.12L263.60 253.12L263.60 252.55L264.10 252.55L264.10 254.13L264.60 254.13L264.60 254.27L265.10 254.27L265.10 254.27L265.60 254.27L265.60 254.72L266.10 254.72L266.10 253.00L266.60 253.00L266.60 253.50L267.10 253.50L267.10 253.50L267.60 253.50L267.60 251.65L268.10 251.65L268.10 252.78L268.60 252.78L268.60 254.13L269.10 254.13L269.10 254.13L269.60 254.13L269.60 253.55L270.10 253.55L270.10 252.61L270.60 252.61L270.60 252.88L271.10 252.88L271.10 252.88L271.60 252.88L271.60 252.97L272.10 252.97L272.10 253.84L272.60 253.84L272.60 253.10L273.10 253.10L273.10 253.10L273.60 253.10L273.60 253.27L274.10 253.27L274.10 253.27L274.60 253.27L274.60 254.33L275.10 254.33L275.10 254.33L275.60 254.33L275.60 254.25L276.10 254.25L276.10 254.25L276.60 254.25L276.60 254.70L277.10 254.70L277.10 254.70L277.60 254.70L277.60 253.89L278.10 253.89L278.10 253.89L278.60 253.89L278.60 254.13L279.10 254.13L279.10 254.13L279.60 254.13L279.60 255.27L280.10 255.27L280.10 255.27L280.60 255.27L280.60 255.28L281.10 255.28L281.10 255.28L281.60 255.28L281.60 254.82L282.10 254.82L282.10 254.82L282.60 254.82L282.60 253.94L283.10 253.94L283.10 253.94L283.60 253.94L283.60 253.50L284.10 253.50L284.10 253.50L284.60 253.50L284.60 253.97L285.10 253.97L285.10 253.97L285.60 253.97L285.60 253.94L286.10 253.94L286.10 253.94L286.60 253.94L286.60 253.82L287.10 253.82L287.10 253.82L287.60 253.82L287.60 253.58L288.10 253.58L288.10 253.58L288.60 253.58L288.60 254.11L289.10 254.11L289.10 254.11L289.60 254.11L289.60 254.43L290.10 254.43L290.10 254.43L290.60 254.43L290.60 254.58L291.10 254.58L291.10 254.58L291.60 254.58L291.60 252.88L292.10 252.88L292.10 252.88L292.60 252.88L292.60 253.41L293.10 253.41L293.10 253.41L293.60 253.41L293.60 251.42L294.10 251.42L294.10 251.42L294.60 251.42L294.60 251.36L295.10 251.36L295.10 251.36L295.60 251.36L295.60 252.40L296.10 252.40L296.10 252.40L296.60 252.40L296.60 251.74L297.10 251.74L297.10 246.73L297.60 246.73L297.60 247.28L298.10 247.28L298.10 247.28L298.60 247.28L298.60 251.82L299.10 251.82L299.10 251.82L299.60 251.82L299.60 251.82L300.10 251.82L300.10 251.82L300.60 251.82L300.60 252.98L301.10 252.98L301.10 252.98L301.60 252.98L301.60 253.26L302.10 253.26L302.10 253.26L302.60 253.26L302.60 250.24L303.10 250.24L303.10 250.24L303.60 250.24L303.60 251.17L304.10 251.17L304.10 254.24L304.60 254.24L304.60 253.87L305.10 253.87L305.10 253.87L305.60 253.87L305.60 252.14L306.10 252.14L306.10 252.14L306.60 252.14L306.60 253.73L307.10 253.73L307.10 253.73L307.60 253.73L307.60 254.45L308.10 254.45L308.10 254.45L308.60 254.45L308.60 254.29L309.10 254.29L309.10 254.29L309.60 254.29L309.60 252.89L310.10 252.89L310.10 252.89L310.60 252.89L310.60 253.98L311.10 253.98L311.10 253.98L311.60 253.98L311.60 255.17L312.10 255.17L312.10 255.17L312.60 255.17L312.60 255.19L313.10 255.19L313.10 255.19L313.60 255.19L313.60 253.67L314.10 253.67L314.10 253.67L314.60 253.67L314.60 253.59L315.10 253.59L315.10 253.59L315.60 253.59L315.60 253.88L316.10 253.88L316.10 253.88L316.60 253.88L316.60 254.01L317.10 254.01L317.10 254.01L317.60 254.01L317.60 255.09L318.10 255.09L318.10 255.09L318.60 255.09L318.60 255.80L319.10 255.80L319.10 255.80L319.60 255.80L319.60 254.66L320.10 254.66L320.10 254.66L320.60 254.66L320.60 253.67L321.10 253.67L321.10 253.67L321.60 253.67L321.60 250.60L322.10 250.60L322.10 250.60L322.60 250.60L322.60 251.67L323.10 251.67L323.10 254.48L323.60 254.48L323.60 254.34L324.10 254.34L324.10 254.34L324.60 254.34L324.60 255.08L325.10 255.08L325.10 254.71L325.60 254.71L325.60 254.13L326.10 254.13L326.10 254.13L326.60 254.13L326.60 253.35L327.10 253.35L327.10 251.09L327.60 251.09L327.60 251.32L328.10 251.32L328.10 251.32L328.60 251.32L328.60 251.25L329.10 251.25L329.10 253.45L329.60 253.45L329.60 253.28L330.10 253.28L330.10 253.28L330.60 253.28L330.60 254.34L331.10 254.34L331.10 249.28L331.60 249.28L331.60 249.83L332.10 249.83L332.10 249.83L332.60 249.83L332.60 249.65L333.10 249.65L333.10 252.87L333.60 252.87L333.60 252.02L334.10 252.02L334.10 252.02L334.60 252.02L334.60 254.22L335.10 254.22L335.10 254.22L335.60 254.22L335.60 253.89L336.10 253.89L336.10 253.89L336.60 253.89L336.60 256.30L337.10 256.30L337.10 256.30L337.60 256.30L337.60 256.30L338.10 256.30L338.10 252.24L338.60 252.24L338.60 251.99L339.10 251.99L339.10 251.99L339.60 251.99L339.60 252.64L340.10 252.64L340.10 253.57L340.60 253.57L340.60 253.41L341.10 253.41L341.10 253.41L341.60 253.41L341.60 254.27L342.10 254.27L342.10 255.41L342.60 255.41L342.60 254.63L343.10 254.63L343.10 254.63L343.60 254.63L343.60 255.21L344.10 255.21L344.10 253.53L344.60 253.53L344.60 252.23L345.10 252.23L345.10 252.23L345.60 252.23L345.60 252.75L346.10 252.75L346.10 254.27L346.60 254.27L346.60 254.70L347.10 254.70L347.10 254.70L347.60 254.70L347.60 254.92L348.10 254.92L348.10 254.13L348.60 254.13L348.60 253.92L349.10 253.92L349.10 253.92L349.60 253.92L349.60 253.27L350.10 253.27L350.10 254.28L350.60 254.28L350.60 254.20L351.10 254.20L351.10 254.20L351.60 254.20L351.60 254.94L352.10 254.94L352.10 252.97L352.60 252.97L352.60 253.07L353.10 253.07L353.10 253.07L353.60 253.07L353.60 252.02L354.10 252.02L354.10 251.06L354.60 251.06L354.60 250.90L355.10 250.90L355.10 250.90L355.60 250.90L355.60 251.43L356.10 251.43L356.10 255.49L356.60 255.49L356.60 255.63L357.10 255.63L357.10 255.63L357.60 255.63L357.60 255.32L358.10 255.32L358.10 252.34L358.60 252.34L358.60 253.58L359.10 253.58L359.10 253.58L359.60 253.58L359.60 252.97L360.10 252.97L360.10 252.97L360.60 252.97L360.60 252.63L361.10 252.63L361.10 253.10L361.60 253.10L361.60 252.16L362.10 252.16L362.10 252.16L362.60 252.16L362.60 251.74L363.10 251.74L363.10 251.74L363.60 251.74L363.60 251.19L364.10 251.19L364.10 251.19L364.60 251.19L364.60 253.54L365.10 253.54L365.10 253.54L365.60 253.54L365.60 253.95L366.10 253.95L366.10 253.95L366.60 253.95L366.60 255.61L367.10 255.61L367.10 255.61L367.60 255.61L367.60 255.01L368.10 255.01L368.10 255.01L368.60 255.01L368.60 255.23L369.10 255.23L369.10 252.64L369.60 252.64L369.60 253.39L370.10 253.39L370.10 253.39L370.60 253.39L370.60 253.93L371.10 253.93L371.10 253.55L371.60 253.55L371.60 252.55L372.10 252.55L372.10 252.55L372.60 252.55L372.60 252.18L373.10 252.18L373.10 253.72L373.60 253.72L373.60 254.09L374.10 254.09L374.10 254.09L374.60 254.09L374.60 254.33L375.10 254.33L375.10 254.33L375.60 254.33L375.60 252.71L376.10 252.71L376.10 252.71L376.60 252.71L376.60 252.22L377.10 252.22L377.10 252.22L377.60 252.22L377.60 254.79L378.10 254.79L378.10 254.79L378.60 254.79L378.60 255.04L379.10 255.04L379.10 255.04L379.60 255.04L379.60 254.65L380.10 254.65L380.10 251.57L380.60 251.57L380.60 251.34L381.10 251.34L381.10 251.34L381.60 251.34L381.60 250.63L382.10 250.63L382.10 252.68L382.60 252.68L382.60 253.60L383.10 253.60L383.10 253.60L383.60 253.60L383.60 252.46L384.10 252.46L384.10 253.54L384.60 253.54L384.60 253.62L385.10 253.62L385.10 253.62L385.60 253.62L385.60 253.97L386.10 253.97L386.10 253.97L386.60 253.97L386.60 254.82L387.10 254.82L387.10 254.82L387.60 254.82L387.60 253.86L388.10 253.86L388.10 253.86L388.60 253.86L388.60 253.38L389.10 253.38L389.10 253.38L389.60 253.38L389.60 252.42L390.10 252.42L390.10 252.42L390.60 252.42L390.60 253.53L391.10 253.53L391.10 253.12L391.60 253.12L391.60 253.13L392.10 253.13L392.10 253.13L392.60 253.13L392.60 252.00L393.10 252.00L393.10 253.59L393.60 253.59L393.60 254.28L394.10 254.28L394.10 254.28L394.60 254.28L394.60 253.31L395.10 253.31L395.10 251.03L395.60 251.03L395.60 252.08L396.10 252.08L396.10 252.08L396.60 252.08L396.60 252.80L397.10 252.80L397.10 252.80L397.60 252.80L397.60 254.80L398.10 254.80L398.10 254.80L398.60 254.80L398.60 254.55L399.10 254.55L399.10 254.55L399.60 254.55L399.60 254.75L400.10 254.75L400.10 254.75L400.60 254.75L400.60 254.45L401.10 254.45L401.10 254.45L401.60 254.45L401.60 255.30L402.10 255.30L402.10 253.69L402.60 253.69L402.60 253.23L403.10 253.23L403.10 253.23L403.60 253.23L403.60 253.57L404.10 253.57L404.10 252.32L404.60 252.32L404.60 250.41L405.10 250.41L405.10 250.41L405.60 250.41L405.60 252.50L406.10 252.50L406.10 254.50L406.60 254.50L406.60 254.63L407.10 254.63L407.10 254.63L407.60 254.63L407.60 254.62L408.10 254.62L408.10 254.62L408.60 254.62L408.60 254.58L409.10 254.58L409.10 254.58L409.60 254.58L409.60 253.95L410.10 253.95L410.10 253.95L410.60 253.95L410.60 253.41L411.10 253.41L411.10 253.41L411.60 253.41L411.60 253.63L412.10 253.63L412.10 253.63L412.60 253.63L412.60 253.82L413.10 253.82L413.10 253.82L413.60 253.82L413.60 253.91L414.10 253.91L414.10 253.91L414.60 253.91L414.60 254.67L415.10 254.67L415.10 253.35L415.60 253.35L415.60 253.62L416.10 253.62L416.10 253.62L416.60 253.62L416.60 252.20L417.10 252.20L417.10 251.07L417.60 251.07L417.60 251.51L418.10 251.51L418.10 251.51L418.60 251.51L418.60 253.16L419.10 253.16L419.10 253.16L419.60 253.16L419.60 255.26L420.10 255.26L420.10 255.26L420.60 255.26L420.60 257.30ZM427.10 257.30L427.10 254.24L427.60 254.24L427.60 254.60L428.10 254.60L428.10 254.60L428.60 254.60L428.60 254.61L429.10 254.61L429.10 253.26L429.60 253.26L429.60 253.34L430.10 253.34L430.10 253.34L430.60 253.34L430.60 253.65L431.10 253.65L431.10 253.65L431.60 253.65L431.60 255.08L432.10 255.08L432.10 255.08L432.60 255.08L432.60 254.73L433.10 254.73L433.10 254.73L433.60 254.73L433.60 253.75L434.10 253.75L434.10 253.75L434.60 253.75L434.60 252.73L435.10 252.73L435.10 252.73L435.60 252.73L435.60 253.34L436.10 253.34L436.10 253.34L436.60 253.34L436.60 251.58L437.10 251.58L437.10 251.58L437.60 251.58L437.60 253.16L438.10 253.16L438.10 254.41L438.60 254.41L438.60 254.19L439.10 254.19L439.10 254.19L439.60 254.19L439.60 253.50L440.10 253.50L440.10 251.87L440.60 251.87L440.60 251.87L441.10 251.87L441.10 251.87L441.60 251.87L441.60 252.69L442.10 252.69L442.10 252.69L442.60 252.69L442.60 253.88L443.10 253.88L443.10 253.88L443.60 253.88L443.60 253.08L444.10 253.08L444.10 253.08L444.60 253.08L444.60 251.47L445.10 251.47L445.10 251.47L445.60 251.47L445.60 249.98L446.10 249.98L446.10 249.98L446.60 249.98L446.60 251.14L447.10 251.14L447.10 251.14L447.60 251.14L447.60 250.60L448.10 250.60L448.10 249.08L448.60 249.08L448.60 247.03L449.10 247.03L449.10 247.03L449.60 247.03L449.60 250.37L450.10 250.37L450.10 252.41L450.60 252.41L450.60 251.37L451.10 251.37L451.10 251.37L451.60 251.37L451.60 248.11L452.10 248.11L452.10 248.11L452.60 248.11L452.60 248.27L453.10 248.27L453.10 248.27L453.60 248.27L453.60 251.62L454.10 251.62L454.10 251.62L454.60 251.62L454.60 251.64L455.10 251.64L455.10 253.15L455.60 253.15L455.60 253.09L456.10 253.09L456.10 253.09L456.60 253.09L456.60 251.10L457.10 251.10L457.10 249.41L457.60 249.41L457.60 251.36L458.10 251.36L458.10 251.36L458.60 251.36L458.60 249.92L459.10 249.92L459.10 252.56L459.60 252.56L459.60 252.27L460.10 252.27L460.10 252.27L460.60 252.27L460.60 253.33L461.10 253.33L461.10 254.65L461.60 254.65L461.60 254.74L462.10 254.74L462.10 254.74L462.60 254.74L462.60 253.87L463.10 253.87L463.10 254.44L463.60 254.44L463.60 254.80L464.10 254.80L464.10 254.80L464.60 254.80L464.60 255.17L465.10 255.17L465.10 255.17L465.60 255.17L465.60 257.30Z" fill="#3d6f3a"/>
<path d="M166.60 278.90L166.60 272.45L167.10 272.45L167.10 272.45L167.60 272.45L167.60 272.18L168.10 272.18L168.10 272.18L168.60 272.18L168.60 272.31L169.10 272.31L169.10 272.31L169.60 272.31L169.60 273.19L170.10 273.19L170.10 273.19L170.60 273.19L170.60 270.76L171.10 270.76L171.10 266.74L171.60 266.74L171.60 264.28L172.10 264.28L172.10 264.28L172.60 264.28L172.60 265.82L173.10 265.82L173.10 265.82L173.60 265.82L173.60 264.13L174.10 264.13L174.10 269.81L174.60 269.81L174.60 272.90L175.10 272.90L175.10 272.90L175.60 272.90L175.60 272.19L176.10 272.19L176.10 274.71L176.60 274.71L176.60 274.20L177.10 274.20L177.10 274.20L177.60 274.20L177.60 273.19L178.10 273.19L178.10 273.19L178.60 273.19L178.60 274.91L179.10 274.91L179.10 274.91L179.60 274.91L179.60 275.74L180.10 275.74L180.10 275.74L180.60 275.74L180.60 275.94L181.10 275.94L181.10 275.94L181.60 275.94L181.60 275.68L182.10 275.68L182.10 275.68L182.60 275.68L182.60 273.22L183.10 273.22L183.10 273.22L183.60 273.22L183.60 263.31L184.10 263.31L184.10 263.31L184.60 263.31L184.60 267.63L185.10 267.63L185.10 267.63L185.60 267.63L185.60 269.21L186.10 269.21L186.10 269.21L186.60 269.21L186.60 269.45L187.10 269.45L187.10 269.45L187.60 269.45L187.60 272.39L188.10 272.39L188.10 272.39L188.60 272.39L188.60 272.51L189.10 272.51L189.10 272.51L189.60 272.51L189.60 272.93L190.10 272.93L190.10 272.93L190.60 272.93L190.60 277.14L191.10 277.14L191.10 277.14L191.60 277.14L191.60 277.15L192.10 277.15L192.10 278.90ZM197.10 278.90L197.10 275.84L197.60 275.84L197.60 275.78L198.10 275.78L198.10 275.78L198.60 275.78L198.60 274.09L199.10 274.09L199.10 274.09L199.60 274.09L199.60 275.42L200.10 275.42L200.10 275.42L200.60 275.42L200.60 276.43L201.10 276.43L201.10 276.43L201.60 276.43L201.60 275.73L202.10 275.73L202.10 275.73L202.60 275.73L202.60 274.68L203.10 274.68L203.10 274.68L203.60 274.68L203.60 275.06L204.10 275.06L204.10 275.06L204.60 275.06L204.60 276.64L205.10 276.64L205.10 276.64L205.60 276.64L205.60 275.98L206.10 275.98L206.10 275.98L206.60 275.98L206.60 274.08L207.10 274.08L207.10 274.08L207.60 274.08L207.60 272.57L208.10 272.57L208.10 272.57L208.60 272.57L208.60 271.68L209.10 271.68L209.10 271.68L209.60 271.68L209.60 271.39L210.10 271.39L210.10 271.39L210.60 271.39L210.60 275.49L211.10 275.49L211.10 275.49L211.60 275.49L211.60 275.80L212.10 275.80L212.10 275.80L212.60 275.80L212.60 275.00L213.10 275.00L213.10 275.00L213.60 275.00L213.60 274.15L214.10 274.15L214.10 274.15L214.60 274.15L214.60 275.79L215.10 275.79L215.10 275.79L215.60 275.79L215.60 276.12L216.10 276.12L216.10 276.12L216.60 276.12L216.60 275.13L217.10 275.13L217.10 275.13L217.60 275.13L217.60 274.78L218.10 274.78L218.10 274.78L218.60 274.78L218.60 272.90L219.10 272.90L219.10 272.90L219.60 272.90L219.60 272.76L220.10 272.76L220.10 272.76L220.60 272.76L220.60 273.63L221.10 273.63L221.10 273.63L221.60 273.63L221.60 273.42L222.10 273.42L222.10 273.42L222.60 273.42L222.60 274.82L223.10 274.82L223.10 274.82L223.60 274.82L223.60 275.74L224.10 275.74L224.10 275.34L224.60 275.34L224.60 273.98L225.10 273.98L225.10 273.98L225.60 273.98L225.60 275.01L226.10 275.01L226.10 274.15L226.60 274.15L226.60 273.52L227.10 273.52L227.10 273.52L227.60 273.52L227.60 273.97L228.10 273.97L228.10 275.31L228.60 275.31L228.60 274.70L229.10 274.70L229.10 274.70L229.60 274.70L229.60 275.61L230.10 275.61L230.10 273.55L230.60 273.55L230.60 273.41L231.10 273.41L231.10 273.41L231.60 273.41L231.60 273.42L232.10 273.42L232.10 272.58L232.60 272.58L232.60 272.87L233.10 272.87L233.10 272.87L233.60 272.87L233.60 270.56L234.10 270.56L234.10 273.34L234.60 273.34L234.60 273.99L235.10 273.99L235.10 273.99L235.60 273.99L235.60 274.51L236.10 274.51L236.10 273.64L236.60 273.64L236.60 273.46L237.10 273.46L237.10 273.46L237.60 273.46L237.60 271.96L238.10 271.96L238.10 272.54L238.60 272.54L238.60 273.66L239.10 273.66L239.10 273.66L239.60 273.66L239.60 274.30L240.10 274.30L240.10 273.04L240.60 273.04L240.60 271.34L241.10 271.34L241.10 271.34L241.60 271.34L241.60 271.80L242.10 271.80L242.10 273.32L242.60 273.32L242.60 272.54L243.10 272.54L243.10 272.54L243.60 272.54L243.60 274.59L244.10 274.59L244.10 272.64L244.60 272.64L244.60 271.38L245.10 271.38L245.10 271.38L245.60 271.38L245.60 270.23L246.10 270.23L246.10 271.85L246.60 271.85L246.60 271.80L247.10 271.80L247.10 271.80L247.60 271.80L247.60 271.59L248.10 271.59L248.10 272.72L248.60 272.72L248.60 274.74L249.10 274.74L249.10 274.74L249.60 274.74L249.60 274.15L250.10 274.15L250.10 271.99L250.60 271.99L250.60 272.58L251.10 272.58L251.10 272.58L251.60 272.58L251.60 272.34L252.10 272.34L252.10 274.39L252.60 274.39L252.60 272.58L253.10 272.58L253.10 272.58L253.60 272.58L253.60 273.48L254.10 273.48L254.10 272.99L254.60 272.99L254.60 272.12L255.10 272.12L255.10 272.12L255.60 272.12L255.60 273.52L256.10 273.52L256.10 274.42L256.60 274.42L256.60 273.38L257.10 273.38L257.10 273.38L257.60 273.38L257.60 274.26L258.10 274.26L258.10 274.72L258.60 274.72L258.60 275.08L259.10 275.08L259.10 275.08L259.60 275.08L259.60 274.10L260.10 274.10L260.10 274.10L260.60 274.10L260.60 273.78L261.10 273.78L261.10 275.49L261.60 275.49L261.60 276.55L262.10 276.55L262.10 269.25L262.60 269.25L262.60 266.72L263.10 266.72L263.10 266.72L263.60 266.72L263.60 266.60L264.10 266.60L264.10 272.90L264.60 272.90L264.60 273.91L265.10 273.91L265.10 273.91L265.60 273.91L265.60 273.53L266.10 273.53L266.10 276.22L266.60 276.22L266.60 276.50L267.10 276.50L267.10 276.50L267.60 276.50L267.60 276.42L268.10 276.42L268.10 274.77L268.60 274.77L268.60 274.66L269.10 274.66L269.10 274.66L269.60 274.66L269.60 273.94L270.10 273.94L270.10 271.96L270.60 271.96L270.60 271.80L271.10 271.80L271.10 271.80L271.60 271.80L271.60 273.12L272.10 273.12L272.10 274.77L272.60 274.77L272.60 275.18L273.10 275.18L273.10 275.18L273.60 275.18L273.60 275.83L274.10 275.83L274.10 275.83L274.60 275.83L274.60 275.31L275.10 275.31L275.10 275.31L275.60 275.31L275.60 276.86L276.10 276.86L276.10 276.86L276.60 276.86L276.60 276.72L277.10 276.72L277.10 276.72L277.60 276.72L277.60 272.71L278.10 272.71L278.10 272.71L278.60 272.71L278.60 270.84L279.10 270.84L279.10 270.84L279.60 270.84L279.60 275.50L280.10 275.50L280.10 275.50L280.60 275.50L280.60 276.22L281.10 276.22L281.10 276.22L281.60 276.22L281.60 275.38L282.10 275.38L282.10 275.38L282.60 275.38L282.60 274.82L283.10 274.82L283.10 274.82L283.60 274.82L283.60 273.07L284.10 273.07L284.10 273.07L284.60 273.07L284.60 272.85L285.10 272.85L285.10 272.85L285.60 272.85L285.60 276.57L286.10 276.57L286.10 276.57L286.60 276.57L286.60 276.47L287.10 276.47L287.10 276.47L287.60 276.47L287.60 273.74L288.10 273.74L288.10 273.74L288.60 273.74L288.60 274.34L289.10 274.34L289.10 274.34L289.60 274.34L289.60 272.46L290.10 272.46L290.10 272.46L290.60 272.46L290.60 272.38L291.10 272.38L291.10 272.38L291.60 272.38L291.60 272.63L292.10 272.63L292.10 272.63L292.60 272.63L292.60 274.11L293.10 274.11L293.10 274.11L293.60 274.11L293.60 275.48L294.10 275.48L294.10 275.48L294.60 275.48L294.60 275.78L295.10 275.78L295.10 275.78L295.60 275.78L295.60 274.33L296.10 274.33L296.10 274.33L296.60 274.33L296.60 273.39L297.10 273.39L297.10 273.39L297.60 273.39L297.60 271.37L298.10 271.37L298.10 271.37L298.60 271.37L298.60 273.10L299.10 273.10L299.10 273.10L299.60 273.10L299.60 273.14L300.10 273.14L300.10 273.14L300.60 273.14L300.60 271.58L301.10 271.58L301.10 271.58L301.60 271.58L301.60 276.42L302.10 276.42L302.10 276.42L302.60 276.42L302.60 276.67L303.10 276.67L303.10 276.67L303.60 276.67L303.60 274.43L304.10 274.43L304.10 274.43L304.60 274.43L304.60 275.23L305.10 275.23L305.10 275.23L305.60 275.23L305.60 272.39L306.10 272.39L306.10 272.39L306.60 272.39L306.60 273.44L307.10 273.44L307.10 273.44L307.60 273.44L307.60 274.46L308.10 274.46L308.10 274.46L308.60 274.46L308.60 275.17L309.10 275.17L309.10 275.17L309.60 275.17L309.60 276.88L310.10 276.88L310.10 276.88L310.60 276.88L310.60 277.03L311.10 277.03L311.10 277.03L311.60 277.03L311.60 274.53L312.10 274.53L312.10 274.53L312.60 274.53L312.60 274.36L313.10 274.36L313.10 274.36L313.60 274.36L313.60 274.97L314.10 274.97L314.10 274.97L314.60 274.97L314.60 276.18L315.10 276.18L315.10 276.18L315.60 276.18L315.60 273.89L316.10 273.89L316.10 273.89L316.60 273.89L316.60 274.42L317.10 274.42L317.10 274.42L317.60 274.42L317.60 276.04L318.10 276.04L318.10 276.04L318.60 276.04L318.60 276.50L319.10 276.50L319.10 276.50L319.60 276.50L319.60 274.18L320.10 274.18L320.10 274.18L320.60 274.18L320.60 273.63L321.10 273.63L321.10 273.63L321.60 273.63L321.60 272.13L322.10 272.13L322.10 272.13L322.60 272.13L322.60 274.19L323.10 274.19L323.10 276.54L323.60 276.54L323.60 276.06L324.10 276.06L324.10 276.06L324.60 276.06L324.60 275.67L325.10 275.67L325.10 274.05L325.60 274.05L325.60 273.74L326.10 273.74L326.10 273.74L326.60 273.74L326.60 275.20L327.10 275.20L327.10 276.02L327.60 276.02L327.60 276.12L328.10 276.12L328.10 276.12L328.60 276.12L328.60 274.92L329.10 274.92L329.10 272.65L329.60 272.65L329.60 272.58L330.10 272.58L330.10 272.58L330.60 272.58L330.60 273.71L331.10 273.71L331.10 270.89L331.60 270.89L331.60 272.42L332.10 272.42L332.10 272.42L332.60 272.42L332.60 269.30L333.10 269.30L333.10 272.13L333.60 272.13L333.60 273.48L334.10 273.48L334.10 273.48L334.60 273.48L334.60 272.18L335.10 272.18L335.10 274.98L335.60 274.98L335.60 275.40L336.10 275.40L336.10 275.40L336.60 275.40L336.60 275.10L337.10 275.10L337.10 277.27L337.60 277.27L337.60 277.69L338.10 277.69L338.10 277.69L338.60 277.69L338.60 277.29L339.10 277.29L339.10 273.01L339.60 273.01L339.60 274.32L340.10 274.32L340.10 274.32L340.60 274.32L340.60 273.90L341.10 273.90L341.10 275.26L341.60 275.26L341.60 274.52L342.10 274.52L342.10 274.52L342.60 274.52L342.60 274.55L343.10 274.55L343.10 274.00L343.60 274.00L343.60 275.22L344.10 275.22L344.10 275.22L344.60 275.22L344.60 275.16L345.10 275.16L345.10 276.41L345.60 276.41L345.60 276.18L346.10 276.18L346.10 276.18L346.60 276.18L346.60 276.03L347.10 276.03L347.10 276.51L347.60 276.51L347.60 276.65L348.10 276.65L348.10 276.65L348.60 276.65L348.60 276.92L349.10 276.92L349.10 274.15L349.60 274.15L349.60 273.84L350.10 273.84L350.10 273.84L350.60 273.84L350.60 272.63L351.10 272.63L351.10 274.72L351.60 274.72L351.60 274.43L352.10 274.43L352.10 274.43L352.60 274.43L352.60 275.87L353.10 275.87L353.10 273.22L353.60 273.22L353.60 271.58L354.10 271.58L354.10 271.58L354.60 271.58L354.60 270.96L355.10 270.96L355.10 273.61L355.60 273.61L355.60 275.12L356.10 275.12L356.10 275.12L356.60 275.12L356.60 273.44L357.10 273.44L357.10 275.62L357.60 275.62L357.60 276.53L358.10 276.53L358.10 271.95L358.60 271.95L358.60 270.17L359.10 270.17L359.10 270.17L359.60 270.17L359.60 270.36L360.10 270.36L360.10 271.13L360.60 271.13L360.60 270.87L361.10 270.87L361.10 273.88L361.60 273.88L361.60 274.56L362.10 274.56L362.10 274.56L362.60 274.56L362.60 273.40L363.10 273.40L363.10 273.40L363.60 273.40L363.60 272.99L364.10 272.99L364.10 272.99L364.60 272.99L364.60 277.06L365.10 277.06L365.10 277.06L365.60 277.06L365.60 276.87L366.10 276.87L366.10 276.87L366.60 276.87L366.60 275.65L367.10 275.65L367.10 275.65L367.60 275.65L367.60 275.67L368.10 275.67L368.10 275.67L368.60 275.67L368.60 276.28L369.10 276.28L369.10 275.53L369.60 275.53L369.60 274.40L370.10 274.40L370.10 274.40L370.60 274.40L370.60 274.64L371.10 274.64L371.10 276.06L371.60 276.06L371.60 276.38L372.10 276.38L372.10 276.38L372.60 276.38L372.60 275.72L373.10 275.72L373.10 273.60L373.60 273.60L373.60 273.56L374.10 273.56L374.10 273.56L374.60 273.56L374.60 274.24L375.10 274.24L375.10 274.24L375.60 274.24L375.60 276.05L376.10 276.05L376.10 276.05L376.60 276.05L376.60 275.61L377.10 275.61L377.10 275.61L377.60 275.61L377.60 274.98L378.10 274.98L378.10 274.98L378.60 274.98L378.60 274.93L379.10 274.93L379.10 274.93L379.60 274.93L379.60 274.30L380.10 274.30L380.10 273.37L380.60 273.37L380.60 274.23L381.10 274.23L381.10 274.23L381.60 274.23L381.60 273.35L382.10 273.35L382.10 274.27L382.60 274.27L382.60 274.13L383.10 274.13L383.10 274.13L383.60 274.13L383.60 275.11L384.10 275.11L384.10 275.87L384.60 275.87L384.60 274.87L385.10 274.87L385.10 274.87L385.60 274.87L385.60 275.80L386.10 275.80L386.10 275.80L386.60 275.80L386.60 275.76L387.10 275.76L387.10 275.76L387.60 275.76L387.60 275.70L388.10 275.70L388.10 275.70L388.60 275.70L388.60 274.60L389.10 274.60L389.10 274.60L389.60 274.60L389.60 275.47L390.10 275.47L390.10 275.47L390.60 275.47L390.60 274.62L391.10 274.62L391.10 273.19L391.60 273.19L391.60 273.51L392.10 273.51L392.10 273.51L392.60 273.51L392.60 272.06L393.10 272.06L393.10 269.79L393.60 269.79L393.60 272.52L394.10 272.52L394.10 272.52L394.60 272.52L394.60 273.95L395.10 273.95L395.10 273.95L395.60 273.95L395.60 273.69L396.10 273.69L396.10 273.69L396.60 273.69L396.60 276.81L397.10 276.81L397.10 276.81L397.60 276.81L397.60 276.74L398.10 276.74L398.10 276.74L398.60 276.74L398.60 278.40L399.10 278.40L399.10 278.40L399.60 278.40L399.60 278.40L400.10 278.40L400.10 278.40L400.60 278.40L400.60 274.64L401.10 274.64L401.10 274.64L401.60 274.64L401.60 273.76L402.10 273.76L402.10 273.76L402.60 273.76L402.60 273.84L403.10 273.84L403.10 272.71L403.60 272.71L403.60 274.45L404.10 274.45L404.10 274.45L404.60 274.45L404.60 273.01L405.10 273.01L405.10 274.62L405.60 274.62L405.60 274.38L406.10 274.38L406.10 274.38L406.60 274.38L406.60 275.83L407.10 275.83L407.10 276.21L407.60 276.21L407.60 275.79L408.10 275.79L408.10 275.79L408.60 275.79L408.60 275.20L409.10 275.20L409.10 275.20L409.60 275.20L409.60 274.87L410.10 274.87L410.10 274.87L410.60 274.87L410.60 273.32L411.10 273.32L411.10 273.32L411.60 273.32L411.60 273.77L412.10 273.77L412.10 273.77L412.60 273.77L412.60 272.40L413.10 272.40L413.10 272.40L413.60 272.40L413.60 274.10L414.10 274.10L414.10 275.30L414.60 275.30L414.60 274.62L415.10 274.62L415.10 274.62L415.60 274.62L415.60 273.83L416.10 273.83L416.10 274.96L416.60 274.96L416.60 276.00L417.10 276.00L417.10 276.00L417.60 276.00L417.60 275.92L418.10 275.92L418.10 273.37L418.60 273.37L418.60 272.71L419.10 272.71L419.10 272.71L419.60 272.71L419.60 273.22L420.10 273.22L420.10 273.22L420.60 273.22L420.60 276.63L421.10 276.63L421.10 276.63L421.60 276.63L421.60 276.45L422.10 276.45L422.10 276.45L422.60 276.45L422.60 275.67L423.10 275.67L423.10 275.67L423.60 275.67L423.60 274.37L424.10 274.37L424.10 274.37L424.60 274.37L424.60 274.80L425.10 274.80L425.10 272.75L425.60 272.75L425.60 272.20L426.10 272.20L426.10 272.20L426.60 272.20L426.60 274.03L427.10 274.03L427.10 275.25L427.60 275.25L427.60 274.09L428.10 274.09L428.10 274.09L428.60 274.09L428.60 275.35L429.10 275.35L429.10 276.14L429.60 276.14L429.60 275.53L430.10 275.53L430.10 275.53L430.60 275.53L430.60 275.37L431.10 275.37L431.10 275.37L431.60 275.37L431.60 274.44L432.10 274.44L432.10 274.44L432.60 274.44L432.60 273.37L433.10 273.37L433.10 273.37L433.60 273.37L433.60 271.60L434.10 271.60L434.10 271.60L434.60 271.60L434.60 271.52L435.10 271.52L435.10 271.52L435.60 271.52L435.60 273.35L436.10 273.35L436.10 273.35L436.60 273.35L436.60 274.98L437.10 274.98L437.10 274.98L437.60 274.98L437.60 273.11L438.10 273.11L438.10 274.27L438.60 274.27L438.60 274.88L439.10 274.88L439.10 274.88L439.60 274.88L439.60 275.28L440.10 275.28L440.10 273.92L440.60 273.92L440.60 272.99L441.10 272.99L441.10 272.99L441.60 272.99L441.60 274.22L442.10 274.22L442.10 274.22L442.60 274.22L442.60 271.96L443.10 271.96L443.10 271.96L443.60 271.96L443.60 273.01L444.10 273.01L444.10 273.01L444.60 273.01L444.60 271.77L445.10 271.77L445.10 271.77L445.60 271.77L445.60 270.41L446.10 270.41L446.10 270.41L446.60 270.41L446.60 270.57L447.10 270.57L447.10 270.57L447.60 270.57L447.60 271.57L448.10 271.57L448.10 271.57L448.60 271.57L448.60 269.43L449.10 269.43L449.10 267.32L449.60 267.32L449.60 270.54L450.10 270.54L450.10 270.54L450.60 270.54L450.60 266.97L451.10 266.97L451.10 265.89L451.60 265.89L451.60 268.74L452.10 268.74L452.10 268.74L452.60 268.74L452.60 262.36L453.10 262.36L453.10 262.36L453.60 262.36L453.60 259.99L454.10 259.99L454.10 259.99L454.60 259.99L454.60 268.05L455.10 268.05L455.10 268.05L455.60 268.05L455.60 267.69L456.10 267.69L456.10 265.66L456.60 265.66L456.60 267.57L457.10 267.57L457.10 267.57L457.60 267.57L457.60 269.27L458.10 269.27L458.10 272.23L458.60 272.23L458.60 272.11L459.10 272.11L459.10 272.11L459.60 272.11L459.60 271.68L460.10 271.68L460.10 273.28L460.60 273.28L460.60 271.91L461.10 271.91L461.10 271.91L461.60 271.91L461.60 272.45L462.10 272.45L462.10 275.21L462.60 275.21L462.60 275.08L463.10 275.08L463.10 275.08L463.60 275.08L463.60 274.44L464.10 274.44L464.10 277.23L464.60 277.23L464.60 277.71L465.10 277.71L465.10 277.71L465.60 277.71L465.60 277.65L466.10 277.65L466.10 277.65L466.60 277.65L466.60 278.90Z" fill="#3d6f3a"/>
<path d="M112.60 300.60L112.60 298.06L113.10 298.06L113.10 298.06L113.60 298.06L113.60 298.73L114.10 298.73L114.10 296.85L114.60 296.85L114.60 296.89L115.10 296.89L115.10 296.89L115.60 296.89L115.60 300.60ZM167.10 300.60L167.10 293.78L167.60 293.78L167.60 292.42L168.10 292.42L168.10 292.42L168.60 292.42L168.60 293.38L169.10 293.38L169.10 292.44L169.60 292.44L169.60 291.34L170.10 291.34L170.10 291.34L170.60 291.34L170.60 290.01L171.10 290.01L171.10 286.50L171.60 286.50L171.60 283.95L172.10 283.95L172.10 288.09L172.60 288.09L172.60 288.06L173.10 288.06L173.10 288.06L173.60 288.06L173.60 290.11L174.10 290.11L174.10 290.11L174.60 290.11L174.60 287.87L175.10 287.87L175.10 294.59L175.60 294.59L175.60 294.96L176.10 294.96L176.10 297.78L176.60 297.78L176.60 298.21L177.10 298.21L177.10 298.21L177.60 298.21L177.60 298.90L178.10 298.90L178.10 298.90L178.60 298.90L178.60 299.34L179.10 299.34L179.10 299.34L179.60 299.34L179.60 299.40L180.10 299.40L180.10 299.40L180.60 299.40L180.60 299.43L181.10 299.43L181.10 297.48L181.60 297.48L181.60 296.57L182.10 296.57L182.10 296.57L182.60 296.57L182.60 296.18L183.10 296.18L183.10 292.86L183.60 292.86L183.60 293.12L184.10 293.12L184.10 293.12L184.60 293.12L184.60 291.51L185.10 291.51L185.10 291.51L185.60 291.51L185.60 292.09L186.10 292.09L186.10 294.64L186.60 294.64L186.60 295.39L187.10 295.39L187.10 295.39L187.60 295.39L187.60 293.52L188.10 293.52L188.10 293.52L188.60 293.52L188.60 295.72L189.10 295.72L189.10 295.72L189.60 295.72L189.60 296.16L190.10 296.16L190.10 296.16L190.60 296.16L190.60 295.54L191.10 295.54L191.10 295.54L191.60 295.54L191.60 295.97L192.10 295.97L192.10 298.28L192.60 298.28L192.60 297.77L193.10 297.77L193.10 297.77L193.60 297.77L193.60 297.98L194.10 297.98L194.10 297.98L194.60 297.98L194.60 300.60ZM268.10 300.60L268.10 295.36L268.60 295.36L268.60 296.38L269.10 296.38L269.10 296.38L269.60 296.38L269.60 295.00L270.10 295.00L270.10 300.60ZM295.60 300.60L295.60 297.95L296.10 297.95L296.10 297.95L296.60 297.95L296.60 297.23L297.10 297.23L297.10 297.23L297.60 297.23L297.60 295.14L298.10 295.14L298.10 295.14L298.60 295.14L298.60 295.56L299.10 295.56L299.10 295.56L299.60 295.56L299.60 297.54L300.10 297.54L300.10 297.54L300.60 297.54L300.60 296.33L301.10 296.33L301.10 296.33L301.60 296.33L301.60 298.74L302.10 298.74L302.10 298.74L302.60 298.74L302.60 298.17L303.10 298.17L303.10 298.17L303.60 298.17L303.60 300.60ZM348.60 300.60L348.60 296.06L349.10 296.06L349.10 296.06L349.60 296.06L349.60 297.40L350.10 297.40L350.10 300.60Z" fill="#3d6f3a"/>
<path d="M194.60 322.50L194.60 320.85L195.10 320.85L195.10 320.85L195.60 320.85L195.60 321.80L196.10 321.80L196.10 321.80L196.60 321.80L196.60 321.80L197.10 321.80L197.10 321.80L197.60 321.80L197.60 321.80L198.10 321.80L198.10 321.80L198.60 321.80L198.60 320.88L199.10 320.88L199.10 320.88L199.60 320.88L199.60 321.28L200.10 321.28L200.10 321.28L200.60 321.28L200.60 321.20L201.10 321.20L201.10 321.20L201.60 321.20L201.60 320.77L202.10 320.77L202.10 320.77L202.60 320.77L202.60 320.98L203.10 320.98L203.10 320.52L203.60 320.52L203.60 319.60L204.10 319.60L204.10 319.60L204.60 319.60L204.60 319.72L205.10 319.72L205.10 320.36L205.60 320.36L205.60 320.42L206.10 320.42L206.10 320.42L206.60 320.42L206.60 320.64L207.10 320.64L207.10 320.64L207.60 320.64L207.60 319.76L208.10 319.76L208.10 319.76L208.60 319.76L208.60 319.87L209.10 319.87L209.10 320.92L209.60 320.92L209.60 321.10L210.10 321.10L210.10 321.10L210.60 321.10L210.60 320.92L211.10 320.92L211.10 320.40L211.60 320.40L211.60 320.64L212.10 320.64L212.10 320.64L212.60 320.64L212.60 320.83L213.10 320.83L213.10 320.41L213.60 320.41L213.60 320.54L214.10 320.54L214.10 320.54L214.60 320.54L214.60 320.41L215.10 320.41L215.10 320.41L215.60 320.41L215.60 320.61L216.10 320.61L216.10 320.61L216.60 320.61L216.60 317.65L217.10 317.65L217.10 317.65L217.60 317.65L217.60 316.70L218.10 316.70L218.10 310.58L218.60 310.58L218.60 310.84L219.10 310.84L219.10 310.84L219.60 310.84L219.60 315.93L220.10 315.93L220.10 315.93L220.60 315.93L220.60 313.15L221.10 313.15L221.10 313.15L221.60 313.15L221.60 319.09L222.10 319.09L222.10 319.09L222.60 319.09L222.60 318.61L223.10 318.61L223.10 321.04L223.60 321.04L223.60 321.12L224.10 321.12L224.10 321.12L224.60 321.12L224.60 318.75L225.10 318.75L225.10 318.75L225.60 318.75L225.60 319.14L226.10 319.14L226.10 318.66L226.60 318.66L226.60 319.09L227.10 319.09L227.10 319.09L227.60 319.09L227.60 318.46L228.10 318.46L228.10 319.47L228.60 319.47L228.60 319.06L229.10 319.06L229.10 319.06L229.60 319.06L229.60 320.01L230.10 320.01L230.10 319.59L230.60 319.59L230.60 318.62L231.10 318.62L231.10 318.62L231.60 318.62L231.60 320.26L232.10 320.26L232.10 320.26L232.60 320.26L232.60 319.95L233.10 319.95L233.10 319.10L233.60 319.10L233.60 319.14L234.10 319.14L234.10 319.14L234.60 319.14L234.60 318.29L235.10 318.29L235.10 319.34L235.60 319.34L235.60 319.09L236.10 319.09L236.10 319.09L236.60 319.09L236.60 317.23L237.10 317.23L237.10 317.23L237.60 317.23L237.60 320.31L238.10 320.31L238.10 320.31L238.60 320.31L238.60 319.73L239.10 319.73L239.10 319.17L239.60 319.17L239.60 319.87L240.10 319.87L240.10 314.07L240.60 314.07L240.60 314.43L241.10 314.43L241.10 314.43L241.60 314.43L241.60 311.74L242.10 311.74L242.10 314.65L242.60 314.65L242.60 315.47L243.10 315.47L243.10 315.47L243.60 315.47L243.60 315.28L244.10 315.28L244.10 314.25L244.60 314.25L244.60 314.34L245.10 314.34L245.10 314.34L245.60 314.34L245.60 315.02L246.10 315.02L246.10 315.02L246.60 315.02L246.60 316.41L247.10 316.41L247.10 316.41L247.60 316.41L247.60 315.94L248.10 315.94L248.10 315.94L248.60 315.94L248.60 316.30L249.10 316.30L249.10 316.30L249.60 316.30L249.60 315.90L250.10 315.90L250.10 317.44L250.60 317.44L250.60 318.25L251.10 318.25L251.10 320.19L251.60 320.19L251.60 319.89L252.10 319.89L252.10 319.89L252.60 319.89L252.60 320.05L253.10 320.05L253.10 319.07L253.60 319.07L253.60 319.46L254.10 319.46L254.10 319.46L254.60 319.46L254.60 320.43L255.10 320.43L255.10 320.43L255.60 320.43L255.60 320.00L256.10 320.00L256.10 320.00L256.60 320.00L256.60 321.34L257.10 321.34L257.10 321.34L257.60 321.34L257.60 320.82L258.10 320.82L258.10 319.13L258.60 319.13L258.60 320.10L259.10 320.10L259.10 320.10L259.60 320.10L259.60 320.25L260.10 320.25L260.10 320.25L260.60 320.25L260.60 320.15L261.10 320.15L261.10 320.54L261.60 320.54L261.60 319.67L262.10 319.67L262.10 319.67L262.60 319.67L262.60 320.29L263.10 320.29L263.10 319.40L263.60 319.40L263.60 319.70L264.10 319.70L264.10 319.70L264.60 319.70L264.60 319.87L265.10 319.87L265.10 319.87L265.60 319.87L265.60 322.00L266.10 322.00L266.10 322.00L266.60 322.00L266.60 322.00L267.10 322.00L267.10 322.00L267.60 322.00L267.60 322.00L268.10 322.00L268.10 322.00L268.60 322.00L268.60 322.00L269.10 322.00L269.10 322.00L269.60 322.00L269.60 322.00L270.10 322.00L270.10 322.00L270.60 322.00L270.60 322.00L271.10 322.00L271.10 320.20L271.60 320.20L271.60 319.54L272.10 319.54L272.10 319.54L272.60 319.54L272.60 319.82L273.10 319.82L273.10 318.48L273.60 318.48L273.60 317.62L274.10 317.62L274.10 317.62L274.60 317.62L274.60 319.25L275.10 319.25L275.10 319.25L275.60 319.25L275.60 319.16L276.10 319.16L276.10 319.16L276.60 319.16L276.60 320.58L277.10 320.58L277.10 320.58L277.60 320.58L277.60 319.74L278.10 319.74L278.10 319.74L278.60 319.74L278.60 319.13L279.10 319.13L279.10 319.13L279.60 319.13L279.60 319.09L280.10 319.09L280.10 317.95L280.60 317.95L280.60 319.36L281.10 319.36L281.10 319.36L281.60 319.36L281.60 320.02L282.10 320.02L282.10 320.02L282.60 320.02L282.60 320.14L283.10 320.14L283.10 319.35L283.60 319.35L283.60 319.48L284.10 319.48L284.10 319.48L284.60 319.48L284.60 318.12L285.10 318.12L285.10 316.47L285.60 316.47L285.60 316.55L286.10 316.55L286.10 316.55L286.60 316.55L286.60 316.97L287.10 316.97L287.10 318.47L287.60 318.47L287.60 318.15L288.10 318.15L288.10 318.15L288.60 318.15L288.60 319.48L289.10 319.48L289.10 319.48L289.60 319.48L289.60 319.92L290.10 319.92L290.10 319.92L290.60 319.92L290.60 319.76L291.10 319.76L291.10 319.76L291.60 319.76L291.60 319.77L292.10 319.77L292.10 319.77L292.60 319.77L292.60 318.80L293.10 318.80L293.10 320.38L293.60 320.38L293.60 320.85L294.10 320.85L294.10 320.85L294.60 320.85L294.60 322.50ZM304.10 322.50L304.10 318.78L304.60 318.78L304.60 318.57L305.10 318.57L305.10 318.57L305.60 318.57L305.60 318.37L306.10 318.37L306.10 318.37L306.60 318.37L306.60 320.63L307.10 320.63L307.10 320.63L307.60 320.63L307.60 320.38L308.10 320.38L308.10 320.38L308.60 320.38L308.60 320.35L309.10 320.35L309.10 320.35L309.60 320.35L309.60 319.90L310.10 319.90L310.10 322.50ZM310.60 322.50L310.60 318.92L311.10 318.92L311.10 318.92L311.60 318.92L311.60 319.00L312.10 319.00L312.10 319.00L312.60 319.00L312.60 319.07L313.10 319.07L313.10 319.07L313.60 319.07L313.60 319.65L314.10 319.65L314.10 319.65L314.60 319.65L314.60 317.56L315.10 317.56L315.10 317.56L315.60 317.56L315.60 318.00L316.10 318.00L316.10 318.00L316.60 318.00L316.60 319.86L317.10 319.86L317.10 319.86L317.60 319.86L317.60 319.30L318.10 319.30L318.10 319.30L318.60 319.30L318.60 317.42L319.10 317.42L319.10 317.42L319.60 317.42L319.60 316.64L320.10 316.64L320.10 316.64L320.60 316.64L320.60 318.96L321.10 318.96L321.10 318.96L321.60 318.96L321.60 318.36L322.10 318.36L322.10 318.36L322.60 318.36L322.60 317.67L323.10 317.67L323.10 317.67L323.60 317.67L323.60 318.35L324.10 318.35L324.10 318.76L324.60 318.76L324.60 317.54L325.10 317.54L325.10 317.54L325.60 317.54L325.60 319.00L326.10 319.00L326.10 317.83L326.60 317.83L326.60 315.99L327.10 315.99L327.10 315.99L327.60 315.99L327.60 317.63L328.10 317.63L328.10 318.85L328.60 318.85L328.60 319.17L329.10 319.17L329.10 319.17L329.60 319.17L329.60 318.79L330.10 318.79L330.10 317.96L330.60 317.96L330.60 316.67L331.10 316.67L331.10 316.67L331.60 316.67L331.60 316.17L332.10 316.17L332.10 317.90L332.60 317.90L332.60 319.53L333.10 319.53L333.10 319.53L333.60 319.53L333.60 318.72L334.10 318.72L334.10 319.66L334.60 319.66L334.60 319.66L335.10 319.66L335.10 319.66L335.60 319.66L335.60 319.28L336.10 319.28L336.10 318.20L336.60 318.20L336.60 319.23L337.10 319.23L337.10 319.23L337.60 319.23L337.60 318.71L338.10 318.71L338.10 319.66L338.60 319.66L338.60 319.84L339.10 319.84L339.10 319.84L339.60 319.84L339.60 319.23L340.10 319.23L340.10 317.60L340.60 317.60L340.60 318.68L341.10 318.68L341.10 318.68L341.60 318.68L341.60 317.39L342.10 317.39L342.10 319.09L342.60 319.09L342.60 319.92L343.10 319.92L343.10 319.92L343.60 319.92L343.60 320.01L344.10 320.01L344.10 319.18L344.60 319.18L344.60 318.36L345.10 318.36L345.10 318.36L345.60 318.36L345.60 318.70L346.10 318.70L346.10 319.18L346.60 319.18L346.60 319.75L347.10 319.75L347.10 319.75L347.60 319.75L347.60 318.97L348.10 318.97L348.10 317.46L348.60 317.46L348.60 318.63L349.10 318.63L349.10 318.63L349.60 318.63L349.60 317.15L350.10 317.15L350.10 318.75L350.60 318.75L350.60 318.89L351.10 318.89L351.10 318.89L351.60 318.89L351.60 318.75L352.10 318.75L352.10 317.15L352.60 317.15L352.60 317.48L353.10 317.48L353.10 317.48L353.60 317.48L353.60 318.05L354.10 318.05L354.10 319.83L354.60 319.83L354.60 319.77L355.10 319.77L355.10 319.77L355.60 319.77L355.60 319.78L356.10 319.78L356.10 318.42L356.60 318.42L356.60 317.49L357.10 317.49L357.10 317.49L357.60 317.49L357.60 319.01L358.10 319.01L358.10 317.14L358.60 317.14L358.60 314.82L359.10 314.82L359.10 318.05L359.60 318.05L359.60 319.50L360.10 319.50L360.10 319.50L360.60 319.50L360.60 319.19L361.10 319.19L361.10 319.19L361.60 319.19L361.60 319.10L362.10 319.10L362.10 317.40L362.60 317.40L362.60 315.79L363.10 315.79L363.10 315.79L363.60 315.79L363.60 316.80L364.10 316.80L364.10 316.80L364.60 316.80L364.60 320.25L365.10 320.25L365.10 320.25L365.60 320.25L365.60 319.72L366.10 319.72L366.10 319.72L366.60 319.72L366.60 320.40L367.10 320.40L367.10 320.40L367.60 320.40L367.60 320.17L368.10 320.17L368.10 317.83L368.60 317.83L368.60 317.68L369.10 317.68L369.10 317.68L369.60 317.68L369.60 317.22L370.10 317.22L370.10 315.21L370.60 315.21L370.60 315.21L371.10 315.21L371.10 315.21L371.60 315.21L371.60 315.52L372.10 315.52L372.10 317.95L372.60 317.95L372.60 318.51L373.10 318.51L373.10 318.51L373.60 318.51L373.60 318.55L374.10 318.55L374.10 318.55L374.60 318.55L374.60 318.88L375.10 318.88L375.10 318.47L375.60 318.47L375.60 317.03L376.10 317.03L376.10 317.03L376.60 317.03L376.60 317.41L377.10 317.41L377.10 317.41L377.60 317.41L377.60 316.19L378.10 316.19L378.10 316.19L378.60 316.19L378.60 317.63L379.10 317.63L379.10 317.63L379.60 317.63L379.60 316.95L380.10 316.95L380.10 317.42L380.60 317.42L380.60 316.64L381.10 316.64L381.10 316.64L381.60 316.64L381.60 317.09L382.10 317.09L382.10 317.09L382.60 317.09L382.60 314.25L383.10 314.25L383.10 314.25L383.60 314.25L383.60 312.79L384.10 312.79L384.10 316.90L384.60 316.90L384.60 315.83L385.10 315.83L385.10 315.83L385.60 315.83L385.60 317.46L386.10 317.46L386.10 319.56L386.60 319.56L386.60 319.63L387.10 319.63L387.10 319.63L387.60 319.63L387.60 319.47L388.10 319.47L388.10 319.47L388.60 319.47L388.60 315.25L389.10 315.25L389.10 315.25L389.60 315.25L389.60 314.84L390.10 314.84L390.10 314.84L390.60 314.84L390.60 315.18L391.10 315.18L391.10 315.18L391.60 315.18L391.60 315.17L392.10 315.17L392.10 315.17L392.60 315.17L392.60 314.82L393.10 314.82L393.10 317.44L393.60 317.44L393.60 317.24L394.10 317.24L394.10 317.24L394.60 317.24L394.60 316.74L395.10 316.74L395.10 316.74L395.60 316.74L395.60 319.27L396.10 319.27L396.10 319.27L396.60 319.27L396.60 318.99L397.10 318.99L397.10 318.99L397.60 318.99L397.60 317.99L398.10 317.99L398.10 317.99L398.60 317.99L398.60 316.18L399.10 316.18L399.10 316.18L399.60 316.18L399.60 316.75L400.10 316.75L400.10 317.27L400.60 317.27L400.60 318.59L401.10 318.59L401.10 318.59L401.60 318.59L401.60 314.72L402.10 314.72L402.10 314.72L402.60 314.72L402.60 317.18L403.10 317.18L403.10 317.18L403.60 317.18L403.60 316.37L404.10 316.37L404.10 316.37L404.60 316.37L404.60 311.89L405.10 311.89L405.10 311.89L405.60 311.89L405.60 312.62L406.10 312.62L406.10 312.62L406.60 312.62L406.60 312.86L407.10 312.86L407.10 312.86L407.60 312.86L407.60 317.89L408.10 317.89L408.10 317.89L408.60 317.89L408.60 318.39L409.10 318.39L409.10 318.39L409.60 318.39L409.60 317.46L410.10 317.46L410.10 313.93L410.60 313.93L410.60 315.83L411.10 315.83L411.10 315.83L411.60 315.83L411.60 315.47L412.10 315.47L412.10 315.47L412.60 315.47L412.60 314.82L413.10 314.82L413.10 317.98L413.60 317.98L413.60 318.73L414.10 318.73L414.10 318.73L414.60 318.73L414.60 317.96L415.10 317.96L415.10 317.96L415.60 317.96L415.60 317.14L416.10 317.14L416.10 316.28L416.60 316.28L416.60 316.52L417.10 316.52L417.10 316.52L417.60 316.52L417.60 316.99L418.10 316.99L418.10 316.99L418.60 316.99L418.60 316.67L419.10 316.67L419.10 316.67L419.60 316.67L419.60 317.08L420.10 317.08L420.10 319.23L420.60 319.23L420.60 319.70L421.10 319.70L421.10 319.70L421.60 319.70L421.60 319.02L422.10 319.02L422.10 319.02L422.60 319.02L422.60 319.32L423.10 319.32L423.10 319.32L423.60 319.32L423.60 318.82L424.10 318.82L424.10 318.08L424.60 318.08L424.60 317.79L425.10 317.79L425.10 317.79L425.60 317.79L425.60 318.63L426.10 318.63L426.10 318.63L426.60 318.63L426.60 318.38L427.10 318.38L427.10 319.56L427.60 319.56L427.60 319.34L428.10 319.34L428.10 319.34L428.60 319.34L428.60 319.75L429.10 319.75L429.10 319.75L429.60 319.75L429.60 319.99L430.10 319.99L430.10 315.81L430.60 315.81L430.60 314.15L431.10 314.15L431.10 314.15L431.60 314.15L431.60 313.62L432.10 313.62L432.10 313.62L432.60 313.62L432.60 313.98L433.10 313.98L433.10 317.17L433.60 317.17L433.60 317.33L434.10 317.33L434.10 317.33L434.60 317.33L434.60 317.01L435.10 317.01L435.10 317.01L435.60 317.01L435.60 317.37L436.10 317.37L436.10 310.19L436.60 310.19L436.60 310.39L437.10 310.39L437.10 310.39L437.60 310.39L437.60 311.33L438.10 311.33L438.10 311.33L438.60 311.33L438.60 312.04L439.10 312.04L439.10 312.04L439.60 312.04L439.60 310.45L440.10 310.45L440.10 315.47L440.60 315.47L440.60 317.03L441.10 317.03L441.10 318.59L441.60 318.59L441.60 317.92L442.10 317.92L442.10 317.92L442.60 317.92L442.60 317.16L443.10 317.16L443.10 317.16L443.60 317.16L443.60 318.34L444.10 318.34L444.10 318.34L444.60 318.34L444.60 318.48L445.10 318.48L445.10 318.48L445.60 318.48L445.60 317.85L446.10 317.85L446.10 317.85L446.60 317.85L446.60 317.45L447.10 317.45L447.10 317.45L447.60 317.45L447.60 317.38L448.10 317.38L448.10 319.71L448.60 319.71L448.60 319.50L449.10 319.50L449.10 319.50L449.60 319.50L449.60 319.76L450.10 319.76L450.10 318.85L450.60 318.85L450.60 318.41L451.10 318.41L451.10 318.41L451.60 318.41L451.60 317.98L452.10 317.98L452.10 319.67L452.60 319.67L452.60 320.46L453.10 320.46L453.10 320.46L453.60 320.46L453.60 319.96L454.10 319.96L454.10 319.96L454.60 319.96L454.60 322.00L455.10 322.00L455.10 322.00L455.60 322.00L455.60 322.00L456.10 322.00L456.10 322.00L456.60 322.00L456.60 322.50Z" fill="#5581c6"/>
<path d="M72.10 343.40L72.10 341.59L72.60 341.59L72.60 341.51L73.10 341.51L73.10 341.51L73.60 341.51L73.60 343.40ZM75.60 343.40L75.60 337.31L76.10 337.31L76.10 337.31L76.60 337.31L76.60 341.89L77.10 341.89L77.10 341.89L77.60 341.89L77.60 341.46L78.10 341.46L78.10 341.46L78.60 341.46L78.60 342.40L79.10 342.40L79.10 342.40L79.60 342.40L79.60 342.40L80.10 342.40L80.10 342.40L80.60 342.40L80.60 342.40L81.10 342.40L81.10 342.40L81.60 342.40L81.60 342.40L82.10 342.40L82.10 342.40L82.60 342.40L82.60 343.40ZM83.60 343.40L83.60 335.81L84.10 335.81L84.10 335.81L84.60 335.81L84.60 333.88L85.10 333.88L85.10 333.88L85.60 333.88L85.60 341.47L86.10 341.47L86.10 341.47L86.60 341.47L86.60 341.32L87.10 341.32L87.10 341.32L87.60 341.32L87.60 343.40ZM89.10 343.40L89.10 339.76L89.60 339.76L89.60 340.06L90.10 340.06L90.10 340.06L90.60 340.06L90.60 339.87L91.10 339.87L91.10 342.40L91.60 342.40L91.60 342.40L92.10 342.40L92.10 342.40L92.60 342.40L92.60 343.40ZM103.60 343.40L103.60 342.60L104.10 342.60L104.10 342.60L104.60 342.60L104.60 342.60L105.10 342.60L105.10 342.60L105.60 342.60L105.60 342.60L106.10 342.60L106.10 342.60L106.60 342.60L106.60 342.60L107.10 342.60L107.10 342.60L107.60 342.60L107.60 342.60L108.10 342.60L108.10 342.60L108.60 342.60L108.60 342.60L109.10 342.60L109.10 342.60L109.60 342.60L109.60 343.40ZM111.10 343.40L111.10 341.14L111.60 341.14L111.60 340.75L112.10 340.75L112.10 340.75L112.60 340.75L112.60 339.44L113.10 339.44L113.10 339.44L113.60 339.44L113.60 341.09L114.10 341.09L114.10 341.09L114.60 341.09L114.60 341.62L115.10 341.62L115.10 341.62L115.60 341.62L115.60 343.40ZM117.60 343.40L117.60 342.40L118.10 342.40L118.10 342.40L118.60 342.40L118.60 342.40L119.10 342.40L119.10 342.40L119.60 342.40L119.60 342.04L120.10 342.04L120.10 342.04L120.60 342.04L120.60 342.28L121.10 342.28L121.10 342.28L121.60 342.28L121.60 343.40ZM122.60 343.40L122.60 342.60L123.10 342.60L123.10 342.60L123.60 342.60L123.60 342.60L124.10 342.60L124.10 342.60L124.60 342.60L124.60 342.60L125.10 342.60L125.10 343.40ZM128.10 343.40L128.10 340.30L128.60 340.30L128.60 340.74L129.10 340.74L129.10 340.74L129.60 340.74L129.60 334.29L130.10 334.29L130.10 334.29L130.60 334.29L130.60 334.47L131.10 334.47L131.10 340.06L131.60 340.06L131.60 339.19L132.10 339.19L132.10 343.40ZM138.10 343.40L138.10 342.40L138.60 342.40L138.60 342.40L139.10 342.40L139.10 342.40L139.60 342.40L139.60 342.40L140.10 342.40L140.10 342.40L140.60 342.40L140.60 342.40L141.10 342.40L141.10 343.40ZM148.10 343.40L148.10 342.60L148.60 342.60L148.60 342.60L149.10 342.60L149.10 342.60L149.60 342.60L149.60 342.60L150.10 342.60L150.10 342.60L150.60 342.60L150.60 342.60L151.10 342.60L151.10 343.40ZM157.10 343.40L157.10 342.60L157.60 342.60L157.60 342.60L158.10 342.60L158.10 342.60L158.60 342.60L158.60 342.60L159.10 342.60L159.10 342.60L159.60 342.60L159.60 342.60L160.10 342.60L160.10 342.90L160.60 342.90L160.60 342.90L161.10 342.90L161.10 342.90L161.60 342.90L161.60 342.90L162.10 342.90L162.10 342.90L162.60 342.90L162.60 342.90L163.10 342.90L163.10 342.90L163.60 342.90L163.60 342.90L164.10 342.90L164.10 343.40ZM177.60 343.40L177.60 341.68L178.10 341.68L178.10 341.68L178.60 341.68L178.60 342.07L179.10 342.07L179.10 342.07L179.60 342.07L179.60 341.89L180.10 341.89L180.10 341.89L180.60 341.89L180.60 341.23L181.10 341.23L181.10 341.23L181.60 341.23L181.60 341.23L182.10 341.23L182.10 341.23L182.60 341.23L182.60 341.53L183.10 341.53L183.10 341.53L183.60 341.53L183.60 342.10L184.10 342.10L184.10 342.10L184.60 342.10L184.60 341.94L185.10 341.94L185.10 341.94L185.60 341.94L185.60 342.21L186.10 342.21L186.10 342.21L186.60 342.21L186.60 341.76L187.10 341.76L187.10 341.76L187.60 341.76L187.60 341.18L188.10 341.18L188.10 341.18L188.60 341.18L188.60 340.66L189.10 340.66L189.10 340.66L189.60 340.66L189.60 341.27L190.10 341.27L190.10 341.27L190.60 341.27L190.60 342.40L191.10 342.40L191.10 342.40L191.60 342.40L191.60 342.40L192.10 342.40L192.10 342.40L192.60 342.40L192.60 342.40L193.10 342.40L193.10 342.40L193.60 342.40L193.60 342.40L194.10 342.40L194.10 342.40L194.60 342.40L194.60 342.40L195.10 342.40L195.10 342.40L195.60 342.40L195.60 342.40L196.10 342.40L196.10 342.40L196.60 342.40L196.60 338.25L197.10 338.25L197.10 338.25L197.60 338.25L197.60 334.97L198.10 334.97L198.10 334.97L198.60 334.97L198.60 338.20L199.10 338.20L199.10 338.20L199.60 338.20L199.60 341.99L200.10 341.99L200.10 341.99L200.60 341.99L200.60 342.02L201.10 342.02L201.10 342.02L201.60 342.02L201.60 341.89L202.10 341.89L202.10 341.89L202.60 341.89L202.60 341.87L203.10 341.87L203.10 341.87L203.60 341.87L203.60 342.06L204.10 342.06L204.10 342.06L204.60 342.06L204.60 341.70L205.10 341.70L205.10 341.70L205.60 341.70L205.60 341.75L206.10 341.75L206.10 341.75L206.60 341.75L206.60 341.49L207.10 341.49L207.10 341.49L207.60 341.49L207.60 340.68L208.10 340.68L208.10 338.18L208.60 338.18L208.60 338.02L209.10 338.02L209.10 338.02L209.60 338.02L209.60 341.80L210.10 341.80L210.10 341.80L210.60 341.80L210.60 342.20L211.10 342.20L211.10 342.20L211.60 342.20L211.60 343.40ZM217.60 343.40L217.60 342.60L218.10 342.60L218.10 342.60L218.60 342.60L218.60 342.60L219.10 342.60L219.10 342.60L219.60 342.60L219.60 342.60L220.10 342.60L220.10 342.60L220.60 342.60L220.60 342.60L221.10 342.60L221.10 342.60L221.60 342.60L221.60 343.40ZM225.10 343.40L225.10 342.90L225.60 342.90L225.60 342.90L226.10 342.90L226.10 342.90L226.60 342.90L226.60 342.90L227.10 342.90L227.10 342.90L227.60 342.90L227.60 342.90L228.10 342.90L228.10 342.90L228.60 342.90L228.60 342.90L229.10 342.90L229.10 343.40ZM237.10 343.40L237.10 342.60L237.60 342.60L237.60 342.60L238.10 342.60L238.10 342.60L238.60 342.60L238.60 342.60L239.10 342.60L239.10 342.60L239.60 342.60L239.60 342.60L240.10 342.60L240.10 342.60L240.60 342.60L240.60 342.60L241.10 342.60L241.10 340.74L241.60 340.74L241.60 340.99L242.10 340.99L242.10 340.99L242.60 340.99L242.60 337.24L243.10 337.24L243.10 337.24L243.60 337.24L243.60 337.50L244.10 337.50L244.10 341.79L244.60 341.79L244.60 342.18L245.10 342.18L245.10 343.40ZM253.10 343.40L253.10 342.18L253.60 342.18L253.60 341.73L254.10 341.73L254.10 341.73L254.60 341.73L254.60 341.91L255.10 341.91L255.10 341.91L255.60 341.91L255.60 341.80L256.10 341.80L256.10 343.40ZM258.10 343.40L258.10 342.90L258.60 342.90L258.60 342.90L259.10 342.90L259.10 342.40L259.60 342.40L259.60 342.40L260.10 342.40L260.10 342.40L260.60 342.40L260.60 342.40L261.10 342.40L261.10 342.90L261.60 342.90L261.60 342.90L262.10 342.90L262.10 342.90L262.60 342.90L262.60 342.90L263.10 342.90L263.10 342.90L263.60 342.90L263.60 342.90L264.10 342.90L264.10 342.90L264.60 342.90L264.60 342.90L265.10 342.90L265.10 342.90L265.60 342.90L265.60 342.90L266.10 342.90L266.10 340.77L266.60 340.77L266.60 341.09L267.10 341.09L267.10 341.09L267.60 341.09L267.60 337.29L268.10 337.29L268.10 337.29L268.60 337.29L268.60 328.22L269.10 328.22L269.10 328.22L269.60 328.22L269.60 330.12L270.10 330.12L270.10 330.12L270.60 330.12L270.60 338.37L271.10 338.37L271.10 338.37L271.60 338.37L271.60 342.40L272.10 342.40L272.10 342.40L272.60 342.40L272.60 342.40L273.10 342.40L273.10 342.90L273.60 342.90L273.60 342.90L274.10 342.90L274.10 342.90L274.60 342.90L274.60 342.90L275.10 342.90L275.10 342.90L275.60 342.90L275.60 342.90L276.10 342.90L276.10 342.90L276.60 342.90L276.60 342.90L277.10 342.90L277.10 342.90L277.60 342.90L277.60 342.90L278.10 342.90L278.10 342.90L278.60 342.90L278.60 342.90L279.10 342.90L279.10 342.90L279.60 342.90L279.60 342.90L280.10 342.90L280.10 342.90L280.60 342.90L280.60 342.90L281.10 342.90L281.10 342.90L281.60 342.90L281.60 342.90L282.10 342.90L282.10 342.90L282.60 342.90L282.60 342.40L283.10 342.40L283.10 342.40L283.60 342.40L283.60 342.40L284.10 342.40L284.10 342.40L284.60 342.40L284.60 342.40L285.10 342.40L285.10 342.40L285.60 342.40L285.60 343.40ZM292.60 343.40L292.60 341.76L293.10 341.76L293.10 341.76L293.60 341.76L293.60 342.05L294.10 342.05L294.10 342.05L294.60 342.05L294.60 342.03L295.10 342.03L295.10 342.03L295.60 342.03L295.60 339.97L296.10 339.97L296.10 339.97L296.60 339.97L296.60 341.09L297.10 341.09L297.10 335.68L297.60 335.68L297.60 333.32L298.10 333.32L298.10 333.32L298.60 333.32L298.60 338.36L299.10 338.36L299.10 338.36L299.60 338.36L299.60 339.64L300.10 339.64L300.10 340.77L300.60 340.77L300.60 339.91L301.10 339.91L301.10 339.91L301.60 339.91L301.60 336.73L302.10 336.73L302.10 336.73L302.60 336.73L302.60 336.05L303.10 336.05L303.10 341.14L303.60 341.14L303.60 341.64L304.10 341.64L304.10 341.64L304.60 341.64L304.60 342.90L305.10 342.90L305.10 342.90L305.60 342.90L305.60 342.90L306.10 342.90L306.10 342.90L306.60 342.90L306.60 342.90L307.10 342.90L307.10 342.90L307.60 342.90L307.60 342.90L308.10 342.90L308.10 342.90L308.60 342.90L308.60 342.90L309.10 342.90L309.10 342.90L309.60 342.90L309.60 343.40ZM316.60 343.40L316.60 341.84L317.10 341.84L317.10 341.84L317.60 341.84L317.60 341.90L318.10 341.90L318.10 341.90L318.60 341.90L318.60 342.08L319.10 342.08L319.10 342.08L319.60 342.08L319.60 342.90L320.10 342.90L320.10 342.90L320.60 342.90L320.60 342.90L321.10 342.90L321.10 342.90L321.60 342.90L321.60 342.90L322.10 342.90L322.10 342.90L322.60 342.90L322.60 342.90L323.10 342.90L323.10 342.90L323.60 342.90L323.60 342.90L324.10 342.90L324.10 342.90L324.60 342.90L324.60 342.90L325.10 342.90L325.10 342.90L325.60 342.90L325.60 342.90L326.10 342.90L326.10 342.90L326.60 342.90L326.60 342.90L327.10 342.90L327.10 342.90L327.60 342.90L327.60 342.90L328.10 342.90L328.10 342.90L328.60 342.90L328.60 342.90L329.10 342.90L329.10 343.40ZM330.10 343.40L330.10 341.77L330.60 341.77L330.60 342.11L331.10 342.11L331.10 342.11L331.60 342.11L331.60 341.77L332.10 341.77L332.10 341.77L332.60 341.77L332.60 342.04L333.10 342.04L333.10 342.04L333.60 342.04L333.60 341.97L334.10 341.97L334.10 340.07L334.60 340.07L334.60 340.41L335.10 340.41L335.10 340.41L335.60 340.41L335.60 338.35L336.10 338.35L336.10 338.35L336.60 338.35L336.60 337.31L337.10 337.31L337.10 341.10L337.60 341.10L337.60 341.37L338.10 341.37L338.10 341.37L338.60 341.37L338.60 342.40L339.10 342.40L339.10 342.40L339.60 342.40L339.60 342.40L340.10 342.40L340.10 342.40L340.60 342.40L340.60 342.40L341.10 342.40L341.10 343.40ZM351.10 343.40L351.10 342.09L351.60 342.09L351.60 342.10L352.10 342.10L352.10 342.10L352.60 342.10L352.60 341.92L353.10 341.92L353.10 340.44L353.60 340.44L353.60 340.38L354.10 340.38L354.10 340.38L354.60 340.38L354.60 342.40L355.10 342.40L355.10 342.40L355.60 342.40L355.60 342.40L356.10 342.40L356.10 342.40L356.60 342.40L356.60 342.40L357.10 342.40L357.10 340.79L357.60 340.79L357.60 340.62L358.10 340.62L358.10 340.62L358.60 340.62L358.60 340.98L359.10 340.98L359.10 341.95L359.60 341.95L359.60 342.26L360.10 342.26L360.10 342.40L360.60 342.40L360.60 342.40L361.10 342.40L361.10 343.40ZM371.10 343.40L371.10 342.90L371.60 342.90L371.60 342.90L372.10 342.90L372.10 342.90L372.60 342.90L372.60 342.90L373.10 342.90L373.10 342.90L373.60 342.90L373.60 342.90L374.10 342.90L374.10 342.90L374.60 342.90L374.60 343.40ZM376.60 343.40L376.60 342.20L377.10 342.20L377.10 342.20L377.60 342.20L377.60 342.20L378.10 342.20L378.10 342.20L378.60 342.20L378.60 342.20L379.10 342.20L379.10 342.20L379.60 342.20L379.60 342.20L380.10 342.20L380.10 342.20L380.60 342.20L380.60 342.20L381.10 342.20L381.10 343.40ZM386.60 343.40L386.60 342.90L387.10 342.90L387.10 342.90L387.60 342.90L387.60 342.90L388.10 342.90L388.10 342.90L388.60 342.90L388.60 343.40ZM403.10 343.40L403.10 341.90L403.60 341.90L403.60 341.85L404.10 341.85L404.10 341.85L404.60 341.85L404.60 341.91L405.10 341.91L405.10 341.91L405.60 341.91L405.60 341.86L406.10 341.86L406.10 342.90L406.60 342.90L406.60 342.90L407.10 342.90L407.10 342.90L407.60 342.90L407.60 342.90L408.10 342.90L408.10 342.90L408.60 342.90L408.60 342.90L409.10 342.90L409.10 342.90L409.60 342.90L409.60 342.90L410.10 342.90L410.10 342.90L410.60 342.90L410.60 342.90L411.10 342.90L411.10 342.90L411.60 342.90L411.60 342.90L412.10 342.90L412.10 342.90L412.60 342.90L412.60 342.90L413.10 342.90L413.10 342.90L413.60 342.90L413.60 342.90L414.10 342.90L414.10 342.90L414.60 342.90L414.60 342.90L415.10 342.90L415.10 343.40ZM417.10 343.40L417.10 340.59L417.60 340.59L417.60 340.86L418.10 340.86L418.10 340.86L418.60 340.86L418.60 341.16L419.10 341.16L419.10 341.16L419.60 341.16L419.60 340.69L420.10 340.69L420.10 340.69L420.60 340.69L420.60 342.40L421.10 342.40L421.10 342.40L421.60 342.40L421.60 342.40L422.10 342.40L422.10 342.40L422.60 342.40L422.60 342.40L423.10 342.40L423.10 342.40L423.60 342.40L423.60 343.40ZM426.10 343.40L426.10 340.85L426.60 340.85L426.60 340.80L427.10 340.80L427.10 336.99L427.60 336.99L427.60 336.61L428.10 336.61L428.10 336.61L428.60 336.61L428.60 341.22L429.10 341.22L429.10 341.22L429.60 341.22L429.60 341.10L430.10 341.10L430.10 343.40ZM432.60 343.40L432.60 342.40L433.10 342.40L433.10 342.40L433.60 342.40L433.60 342.40L434.10 342.40L434.10 342.40L434.60 342.40L434.60 342.40L435.10 342.40L435.10 342.40L435.60 342.40L435.60 343.40ZM441.10 343.40L441.10 342.90L441.60 342.90L441.60 342.90L442.10 342.90L442.10 342.90L442.60 342.90L442.60 342.90L443.10 342.90L443.10 342.90L443.60 342.90L443.60 342.90L444.10 342.90L444.10 342.90L444.60 342.90L444.60 342.90L445.10 342.90L445.10 342.90L445.60 342.90L445.60 342.90L446.10 342.90L446.10 342.90L446.60 342.90L446.60 342.90L447.10 342.90L447.10 342.90L447.60 342.90L447.60 342.90L448.10 342.90L448.10 342.60L448.60 342.60L448.60 342.60L449.10 342.60L449.10 342.60L449.60 342.60L449.60 342.60L450.10 342.60L450.10 342.60L450.60 342.60L450.60 342.60L451.10 342.60L451.10 342.60L451.60 342.60L451.60 342.60L452.10 342.60L452.10 342.60L452.60 342.60L452.60 342.60L453.10 342.60L453.10 342.60L453.60 342.60L453.60 342.60L454.10 342.60L454.10 342.60L454.60 342.60L454.60 343.40ZM457.60 343.40L457.60 342.03L458.10 342.03L458.10 342.03L458.60 342.03L458.60 342.23L459.10 342.23L459.10 342.23L459.60 342.23L459.60 341.88L460.10 341.88L460.10 338.35L460.60 338.35L460.60 339.25L461.10 339.25L461.10 339.25L461.60 339.25L461.60 329.50L462.10 329.50L462.10 329.50L462.60 329.50L462.60 330.49L463.10 330.49L463.10 339.67L463.60 339.67L463.60 339.69L464.10 339.69L464.10 339.69L464.60 339.69L464.60 342.40L465.10 342.40L465.10 342.40L465.60 342.40L465.60 342.40L466.10 342.40L466.10 342.40L466.60 342.40L466.60 343.40Z" fill="#4a1f5e"/>
<path d="M74.60 364.40L74.60 361.54L75.10 361.54L75.10 361.54L75.60 361.54L75.60 362.46L76.10 362.46L76.10 362.46L76.60 362.46L76.60 359.43L77.10 359.43L77.10 359.43L77.60 359.43L77.60 359.24L78.10 359.24L78.10 359.24L78.60 359.24L78.60 359.54L79.10 359.54L79.10 359.54L79.60 359.54L79.60 359.71L80.10 359.71L80.10 359.71L80.60 359.71L80.60 362.30L81.10 362.30L81.10 362.30L81.60 362.30L81.60 361.78L82.10 361.78L82.10 361.78L82.60 361.78L82.60 363.40L83.10 363.40L83.10 363.40L83.60 363.40L83.60 363.40L84.10 363.40L84.10 363.40L84.60 363.40L84.60 364.40ZM109.10 364.40L109.10 362.88L109.60 362.88L109.60 362.27L110.10 362.27L110.10 362.27L110.60 362.27L110.60 360.24L111.10 360.24L111.10 360.24L111.60 360.24L111.60 360.00L112.10 360.00L112.10 357.80L112.60 357.80L112.60 358.12L113.10 358.12L113.10 358.12L113.60 358.12L113.60 361.30L114.10 361.30L114.10 361.30L114.60 361.30L114.60 360.38L115.10 360.38L115.10 360.38L115.60 360.38L115.60 362.32L116.10 362.32L116.10 362.32L116.60 362.32L116.60 362.53L117.10 362.53L117.10 362.53L117.60 362.53L117.60 364.40ZM147.60 364.40L147.60 361.57L148.10 361.57L148.10 361.57L148.60 361.57L148.60 362.28L149.10 362.28L149.10 361.44L149.60 361.44L149.60 360.39L150.10 360.39L150.10 360.39L150.60 360.39L150.60 362.84L151.10 362.84L151.10 362.84L151.60 362.84L151.60 364.40ZM165.10 364.40L165.10 361.90L165.60 361.90L165.60 362.61L166.10 362.61L166.10 362.61L166.60 362.61L166.60 362.61L167.10 362.61L167.10 360.45L167.60 360.45L167.60 359.03L168.10 359.03L168.10 359.03L168.60 359.03L168.60 358.66L169.10 358.66L169.10 356.60L169.60 356.60L169.60 358.83L170.10 358.83L170.10 358.83L170.60 358.83L170.60 358.13L171.10 358.13L171.10 355.61L171.60 355.61L171.60 353.83L172.10 353.83L172.10 353.83L172.60 353.83L172.60 356.22L173.10 356.22L173.10 356.22L173.60 356.22L173.60 357.79L174.10 357.79L174.10 357.79L174.60 357.79L174.60 362.51L175.10 362.51L175.10 362.51L175.60 362.51L175.60 362.87L176.10 362.87L176.10 363.40L176.60 363.40L176.60 363.40L177.10 363.40L177.10 363.40L177.60 363.40L177.60 363.40L178.10 363.40L178.10 363.40L178.60 363.40L178.60 363.40L179.10 363.40L179.10 363.01L179.60 363.01L179.60 362.86L180.10 362.86L180.10 362.86L180.60 362.86L180.60 362.80L181.10 362.80L181.10 362.80L181.60 362.80L181.60 362.25L182.10 362.25L182.10 362.25L182.60 362.25L182.60 357.26L183.10 357.26L183.10 353.69L183.60 353.69L183.60 352.27L184.10 352.27L184.10 347.42L184.60 347.42L184.60 347.52L185.10 347.52L185.10 353.35L185.60 353.35L185.60 354.33L186.10 354.33L186.10 359.82L186.60 359.82L186.60 359.89L187.10 359.89L187.10 362.60L187.60 362.60L187.60 362.26L188.10 362.26L188.10 362.26L188.60 362.26L188.60 358.94L189.10 358.94L189.10 358.94L189.60 358.94L189.60 359.27L190.10 359.27L190.10 359.27L190.60 359.27L190.60 359.71L191.10 359.71L191.10 361.95L191.60 361.95L191.60 362.24L192.10 362.24L192.10 361.38L192.60 361.38L192.60 361.72L193.10 361.72L193.10 363.25L193.60 363.25L193.60 362.68L194.10 362.68L194.10 362.68L194.60 362.68L194.60 362.85L195.10 362.85L195.10 363.40L195.60 363.40L195.60 363.40L196.10 363.40L196.10 363.40L196.60 363.40L196.60 363.40L197.10 363.40L197.10 362.64L197.60 362.64L197.60 362.41L198.10 362.41L198.10 362.41L198.60 362.41L198.60 362.67L199.10 362.67L199.10 362.67L199.60 362.67L199.60 362.77L200.10 362.77L200.10 362.77L200.60 362.77L200.60 362.42L201.10 362.42L201.10 362.42L201.60 362.42L201.60 362.66L202.10 362.66L202.10 362.66L202.60 362.66L202.60 362.74L203.10 362.74L203.10 362.74L203.60 362.74L203.60 362.40L204.10 362.40L204.10 363.60L204.60 363.60L204.60 363.60L205.10 363.60L205.10 363.60L205.60 363.60L205.60 363.60L206.10 363.60L206.10 363.60L206.60 363.60L206.60 363.60L207.10 363.60L207.10 363.60L207.60 363.60L207.60 363.60L208.10 363.60L208.10 364.40ZM211.60 364.40L211.60 363.40L212.10 363.40L212.10 363.40L212.60 363.40L212.60 363.40L213.10 363.40L213.10 363.40L213.60 363.40L213.60 364.40ZM217.60 364.40L217.60 363.40L218.10 363.40L218.10 363.40L218.60 363.40L218.60 363.40L219.10 363.40L219.10 363.40L219.60 363.40L219.60 364.40ZM225.10 364.40L225.10 363.40L225.60 363.40L225.60 363.40L226.10 363.40L226.10 363.40L226.60 363.40L226.60 363.40L227.10 363.40L227.10 363.40L227.60 363.40L227.60 363.40L228.10 363.40L228.10 363.40L228.60 363.40L228.60 363.40L229.10 363.40L229.10 364.40ZM237.10 364.40L237.10 363.60L237.60 363.60L237.60 363.60L238.10 363.60L238.10 363.60L238.60 363.60L238.60 363.60L239.10 363.60L239.10 363.60L239.60 363.60L239.60 363.60L240.10 363.60L240.10 363.60L240.60 363.60L240.60 363.60L241.10 363.60L241.10 362.74L241.60 362.74L241.60 362.93L242.10 362.93L242.10 362.93L242.60 362.93L242.60 363.12L243.10 363.12L243.10 363.12L243.60 363.12L243.60 362.75L244.10 362.75L244.10 362.75L244.60 362.75L244.60 362.78L245.10 362.78L245.10 361.70L245.60 361.70L245.60 361.83L246.10 361.83L246.10 361.83L246.60 361.83L246.60 361.59L247.10 361.59L247.10 361.59L247.60 361.59L247.60 362.19L248.10 362.19L248.10 363.07L248.60 363.07L248.60 363.24L249.10 363.24L249.10 363.24L249.60 363.24L249.60 362.94L250.10 362.94L250.10 362.94L250.60 362.94L250.60 362.79L251.10 362.79L251.10 364.40ZM252.10 364.40L252.10 360.64L252.60 360.64L252.60 361.52L253.10 361.52L253.10 361.52L253.60 361.52L253.60 360.71L254.10 360.71L254.10 360.71L254.60 360.71L254.60 360.44L255.10 360.44L255.10 362.14L255.60 362.14L255.60 362.72L256.10 362.72L256.10 362.72L256.60 362.72L256.60 362.41L257.10 362.41L257.10 363.40L257.60 363.40L257.60 363.40L258.10 363.40L258.10 363.40L258.60 363.40L258.60 363.40L259.10 363.40L259.10 363.60L259.60 363.60L259.60 363.60L260.10 363.60L260.10 363.60L260.60 363.60L260.60 363.60L261.10 363.60L261.10 363.60L261.60 363.60L261.60 363.60L262.10 363.60L262.10 363.60L262.60 363.60L262.60 363.60L263.10 363.60L263.10 363.60L263.60 363.60L263.60 363.60L264.10 363.60L264.10 361.60L264.60 361.60L264.60 362.07L265.10 362.07L265.10 362.07L265.60 362.07L265.60 353.72L266.10 353.72L266.10 353.72L266.60 353.72L266.60 353.86L267.10 353.86L267.10 355.89L267.60 355.89L267.60 357.70L268.10 357.70L268.10 361.47L268.60 361.47L268.60 360.96L269.10 360.96L269.10 360.96L269.60 360.96L269.60 360.49L270.10 360.49L270.10 362.17L270.60 362.17L270.60 362.18L271.10 362.18L271.10 362.18L271.60 362.18L271.60 362.48L272.10 362.48L272.10 362.96L272.60 362.96L272.60 362.99L273.10 362.99L273.10 362.99L273.60 362.99L273.60 362.92L274.10 362.92L274.10 362.92L274.60 362.92L274.60 363.17L275.10 363.17L275.10 363.17L275.60 363.17L275.60 362.35L276.10 362.35L276.10 362.35L276.60 362.35L276.60 362.36L277.10 362.36L277.10 362.36L277.60 362.36L277.60 362.85L278.10 362.85L278.10 362.85L278.60 362.85L278.60 363.06L279.10 363.06L279.10 363.06L279.60 363.06L279.60 363.90L280.10 363.90L280.10 363.90L280.60 363.90L280.60 363.90L281.10 363.90L281.10 363.90L281.60 363.90L281.60 363.90L282.10 363.90L282.10 363.90L282.60 363.90L282.60 363.90L283.10 363.90L283.10 363.90L283.60 363.90L283.60 363.90L284.10 363.90L284.10 363.90L284.60 363.90L284.60 364.40ZM291.60 364.40L291.60 362.08L292.10 362.08L292.10 362.08L292.60 362.08L292.60 362.61L293.10 362.61L293.10 362.61L293.60 362.61L293.60 362.83L294.10 362.83L294.10 362.83L294.60 362.83L294.60 359.37L295.10 359.37L295.10 359.37L295.60 359.37L295.60 359.05L296.10 359.05L296.10 352.09L296.60 352.09L296.60 355.14L297.10 355.14L297.10 355.14L297.60 355.14L297.60 355.48L298.10 355.48L298.10 355.48L298.60 355.48L298.60 356.44L299.10 356.44L299.10 359.98L299.60 359.98L299.60 359.61L300.10 359.61L300.10 354.34L300.60 354.34L300.60 356.54L301.10 356.54L301.10 356.54L301.60 356.54L301.60 359.88L302.10 359.88L302.10 359.88L302.60 359.88L302.60 357.46L303.10 357.46L303.10 361.51L303.60 361.51L303.60 361.64L304.10 361.64L304.10 361.64L304.60 361.64L304.60 363.40L305.10 363.40L305.10 363.40L305.60 363.40L305.60 363.40L306.10 363.40L306.10 363.40L306.60 363.40L306.60 363.40L307.10 363.40L307.10 363.40L307.60 363.40L307.60 363.40L308.10 363.40L308.10 363.40L308.60 363.40L308.60 363.40L309.10 363.40L309.10 363.40L309.60 363.40L309.60 364.40ZM313.60 364.40L313.60 363.40L314.10 363.40L314.10 363.40L314.60 363.40L314.60 363.40L315.10 363.40L315.10 363.40L315.60 363.40L315.60 363.40L316.10 363.40L316.10 363.40L316.60 363.40L316.60 363.40L317.10 363.40L317.10 363.40L317.60 363.40L317.60 364.40ZM325.10 364.40L325.10 363.40L325.60 363.40L325.60 363.40L326.10 363.40L326.10 363.40L326.60 363.40L326.60 363.40L327.10 363.40L327.10 363.40L327.60 363.40L327.60 363.40L328.10 363.40L328.10 363.40L328.60 363.40L328.60 363.40L329.10 363.40L329.10 363.40L329.60 363.40L329.60 363.40L330.10 363.40L330.10 363.40L330.60 363.40L330.60 363.40L331.10 363.40L331.10 364.40ZM332.10 364.40L332.10 362.50L332.60 362.50L332.60 361.96L333.10 361.96L333.10 361.96L333.60 361.96L333.60 361.64L334.10 361.64L334.10 361.64L334.60 361.64L334.60 362.07L335.10 362.07L335.10 363.40L335.60 363.40L335.60 363.40L336.10 363.40L336.10 363.40L336.60 363.40L336.60 363.40L337.10 363.40L337.10 364.40ZM338.10 364.40L338.10 362.72L338.60 362.72L338.60 363.25L339.10 363.25L339.10 363.25L339.60 363.25L339.60 362.91L340.10 362.91L340.10 362.91L340.60 362.91L340.60 363.04L341.10 363.04L341.10 364.40ZM345.10 364.40L345.10 362.59L345.60 362.59L345.60 362.82L346.10 362.82L346.10 362.82L346.60 362.82L346.60 362.11L347.10 362.11L347.10 362.11L347.60 362.11L347.60 362.70L348.10 362.70L348.10 362.70L348.60 362.70L348.60 362.45L349.10 362.45L349.10 362.45L349.60 362.45L349.60 362.38L350.10 362.38L350.10 362.38L350.60 362.38L350.60 362.12L351.10 362.12L351.10 363.40L351.60 363.40L351.60 363.40L352.10 363.40L352.10 363.40L352.60 363.40L352.60 363.40L353.10 363.40L353.10 363.40L353.60 363.40L353.60 363.40L354.10 363.40L354.10 363.40L354.60 363.40L354.60 363.40L355.10 363.40L355.10 362.38L355.60 362.38L355.60 361.54L356.10 361.54L356.10 361.54L356.60 361.54L356.60 361.51L357.10 361.51L357.10 361.51L357.60 361.51L357.60 362.32L358.10 362.32L358.10 363.40L358.60 363.40L358.60 363.40L359.10 363.40L359.10 363.40L359.60 363.40L359.60 363.40L360.10 363.40L360.10 363.40L360.60 363.40L360.60 363.40L361.10 363.40L361.10 363.90L361.60 363.90L361.60 363.90L362.10 363.90L362.10 363.90L362.60 363.90L362.60 363.90L363.10 363.90L363.10 363.90L363.60 363.90L363.60 363.90L364.10 363.90L364.10 363.90L364.60 363.90L364.60 364.40ZM377.60 364.40L377.60 363.60L378.10 363.60L378.10 363.60L378.60 363.60L378.60 363.60L379.10 363.60L379.10 363.60L379.60 363.60L379.60 363.60L380.10 363.60L380.10 363.60L380.60 363.60L380.60 363.60L381.10 363.60L381.10 363.60L381.60 363.60L381.60 363.60L382.10 363.60L382.10 364.40ZM417.10 364.40L417.10 363.40L417.60 363.40L417.60 363.40L418.10 363.40L418.10 363.40L418.60 363.40L418.60 363.40L419.10 363.40L419.10 363.40L419.60 363.40L419.60 363.40L420.10 363.40L420.10 363.40L420.60 363.40L420.60 364.40ZM423.60 364.40L423.60 363.60L424.10 363.60L424.10 363.60L424.60 363.60L424.60 363.60L425.10 363.60L425.10 363.60L425.60 363.60L425.60 363.60L426.10 363.60L426.10 363.60L426.60 363.60L426.60 363.60L427.10 363.60L427.10 363.60L427.60 363.60L427.60 363.60L428.10 363.60L428.10 363.60L428.60 363.60L428.60 363.60L429.10 363.60L429.10 363.60L429.60 363.60L429.60 363.60L430.10 363.60L430.10 363.60L430.60 363.60L430.60 364.40ZM461.10 364.40L461.10 363.60L461.60 363.60L461.60 363.60L462.10 363.60L462.10 363.60L462.60 363.60L462.60 363.60L463.10 363.60L463.10 363.60L463.60 363.60L463.60 363.60L464.10 363.60L464.10 363.60L464.60 363.60L464.60 363.60L465.10 363.60L465.10 363.60L465.60 363.60L465.60 364.40Z" fill="#4a1f5e"/>
<defs><linearGradient id="cg0" x1="0" x2="1" y1="0" y2="0"><stop offset="0" stop-color="#fff078" stop-opacity="0"/><stop offset="0.389" stop-color="#fff078" stop-opacity="0.09"/><stop offset="0.611" stop-color="#fff078" stop-opacity="0.09"/><stop offset="1" stop-color="#fff078" stop-opacity="0"/></linearGradient><linearGradient id="cg1" x1="0" x2="1" y1="0" y2="0"><stop offset="0" stop-color="#fff078" stop-opacity="0"/><stop offset="0.346" stop-color="#fff078" stop-opacity="0.38"/><stop offset="0.654" stop-color="#fff078" stop-opacity="0.38"/><stop offset="1" stop-color="#fff078" stop-opacity="0"/></linearGradient><linearGradient id="cg2" x1="0" x2="1" y1="0" y2="0"><stop offset="0" stop-color="#fff078" stop-opacity="0"/><stop offset="0.364" stop-color="#fff078" stop-opacity="0.38"/><stop offset="0.636" stop-color="#fff078" stop-opacity="0.38"/><stop offset="1" stop-color="#fff078" stop-opacity="0"/></linearGradient><linearGradient id="cg3" x1="0" x2="1" y1="0" y2="0"><stop offset="0" stop-color="#fff078" stop-opacity="0"/><stop offset="0.162" stop-color="#fff078" stop-opacity="0.4"/><stop offset="0.838" stop-color="#fff078" stop-opacity="0.4"/><stop offset="1" stop-color="#fff078" stop-opacity="0"/></linearGradient><linearGradient id="cg4" x1="0" x2="1" y1="0" y2="0"><stop offset="0" stop-color="#fff078" stop-opacity="0"/><stop offset="0.344" stop-color="#fff078" stop-opacity="0.3"/><stop offset="0.656" stop-color="#fff078" stop-opacity="0.3"/><stop offset="1" stop-color="#fff078" stop-opacity="0"/></linearGradient><linearGradient id="cg5" x1="0" x2="1" y1="0" y2="0"><stop offset="0" stop-color="#fff078" stop-opacity="0"/><stop offset="0.370" stop-color="#fff078" stop-opacity="0.3"/><stop offset="0.630" stop-color="#fff078" stop-opacity="0.3"/><stop offset="1" stop-color="#fff078" stop-opacity="0"/></linearGradient><linearGradient id="cg6" x1="0" x2="1" y1="0" y2="0"><stop offset="0" stop-color="#fff078" stop-opacity="0"/><stop offset="0.357" stop-color="#fff078" stop-opacity="0.3"/><stop offset="0.643" stop-color="#fff078" stop-opacity="0.3"/><stop offset="1" stop-color="#fff078" stop-opacity="0"/></linearGradient><linearGradient id="cg7" x1="0" x2="1" y1="0" y2="0"><stop offset="0" stop-color="#fff078" stop-opacity="0"/><stop offset="0.180" stop-color="#fff078" stop-opacity="0.4"/><stop offset="0.820" stop-color="#fff078" stop-opacity="0.4"/><stop offset="1" stop-color="#fff078" stop-opacity="0"/></linearGradient><linearGradient id="cg8" x1="0" x2="1" y1="0" y2="0"><stop offset="0" stop-color="#fff078" stop-opacity="0"/><stop offset="0.344" stop-color="#fff078" stop-opacity="0.34"/><stop offset="0.656" stop-color="#fff078" stop-opacity="0.34"/><stop offset="1" stop-color="#fff078" stop-opacity="0"/></linearGradient></defs>
<rect x="130.2" y="88.0" width="3.60" height="287.50" fill="url(#cg0)"/>
<rect x="137.0" y="88.0" width="5.20" height="287.50" fill="url(#cg1)"/>
<rect x="213.2" y="88.0" width="4.40" height="287.50" fill="url(#cg2)"/>
<rect x="258.6" y="84.8" width="21.00" height="290.70" fill="url(#cg3)"/>
<rect x="295.6" y="84.8" width="6.40" height="290.70" fill="url(#cg4)"/>
<rect x="309.8" y="84.8" width="5.40" height="290.70" fill="url(#cg5)"/>
<rect x="320.0" y="84.8" width="5.60" height="290.70" fill="url(#cg6)"/>
<rect x="344.2" y="84.8" width="17.80" height="290.70" fill="url(#cg7)"/>
<rect x="384.8" y="84.8" width="6.40" height="290.70" fill="url(#cg8)"/>
<rect x="60" y="13.9" width="410" height="1.1" fill="#3a3a3a"/>
<rect x="87.5" y="9.6" width="1" height="4.5" fill="#3a3a3a"/>
<rect x="119.5" y="9.6" width="1" height="4.5" fill="#3a3a3a"/>
<rect x="151.5" y="9.6" width="1" height="4.5" fill="#3a3a3a"/>
<rect x="183.5" y="9.6" width="1" height="4.5" fill="#3a3a3a"/>
<rect x="215.5" y="9.6" width="1" height="4.5" fill="#3a3a3a"/>
<rect x="247.5" y="9.6" width="1" height="4.5" fill="#3a3a3a"/>
<rect x="279.5" y="9.6" width="1" height="4.5" fill="#3a3a3a"/>
<rect x="311.5" y="9.6" width="1" height="4.5" fill="#3a3a3a"/>
<rect x="343.5" y="9.6" width="1" height="4.5" fill="#3a3a3a"/>
<rect x="375.5" y="9.6" width="1" height="4.5" fill="#3a3a3a"/>
<rect x="407.5" y="9.6" width="1" height="4.5" fill="#3a3a3a"/>
<rect x="439.5" y="9.6" width="1" height="4.5" fill="#3a3a3a"/>
<text stroke="#262626" x="88.5" y="5.9" font-size="7.1" text-anchor="middle" fill="#262626">11,560 kb</text>
<text stroke="#262626" x="152.6" y="5.9" font-size="7.1" text-anchor="middle" fill="#262626">11,580 kb</text>
<text stroke="#262626" x="216.7" y="5.9" font-size="7.1" text-anchor="middle" fill="#262626">11,600 kb</text>
<text stroke="#262626" x="280.8" y="5.9" font-size="7.1" text-anchor="middle" fill="#262626">11,620 kb</text>
<text stroke="#262626" x="344.9" y="5.9" font-size="7.1" text-anchor="middle" fill="#262626">11,640 kb</text>
<text stroke="#262626" x="409.0" y="5.9" font-size="7.1" text-anchor="middle" fill="#262626">11,660 kb</text>
<text stroke="#262626" x="473.1" y="5.9" font-size="7.1" text-anchor="middle" fill="#262626">11,680 kb</text>
<text stroke="#262626" x="32.7" y="5.9" font-size="7.3" fill="#262626">Chr11:</text>
<text stroke="#262626" x="0.6" y="46.2" font-size="9.75" fill="#262626">DHS cluster:</text>
<text stroke="#262626" x="0.6" y="57.3" font-size="8.55" fill="#262626">(Ref.16)</text>
<text stroke="#262626" x="31.6" y="67.1" font-size="9.9" fill="#262626">DHS</text>
<text stroke="#262626" x="114.0" y="34.4" font-size="9.0" text-anchor="middle" fill="#262626">C1</text>
<rect x="113.30" y="39.5" width="1.2" height="9.00" fill="#111"/>
<path d="M109.70 48 L118.10 48 L113.90 55.6 Z" fill="#111"/>
<text stroke="#262626" x="175.8" y="34.4" font-size="9.0" text-anchor="middle" fill="#262626">C2</text>
<rect x="176.00" y="39.2" width="1.2" height="9.30" fill="#111"/>
<path d="M172.40 48 L180.80 48 L176.60 55.6 Z" fill="#111"/>
<text stroke="#262626" x="192.3" y="34.4" font-size="9.0" text-anchor="middle" fill="#262626">C3</text>
<rect x="191.70" y="39.2" width="1.2" height="9.30" fill="#111"/>
<path d="M188.10 48 L196.50 48 L192.30 55.6 Z" fill="#111"/>
<text stroke="#262626" x="216.3" y="34.4" font-size="9.0" text-anchor="middle" fill="#262626">C4</text>
<rect x="216.50" y="44.0" width="1.2" height="4.50" fill="#111"/>
<path d="M212.90 48 L221.30 48 L217.10 55.6 Z" fill="#111"/>
<text stroke="#262626" x="232.6" y="34.4" font-size="9.0" text-anchor="middle" fill="#262626">C5</text>
<rect x="230.60" y="44.0" width="1.2" height="4.50" fill="#111"/>
<path d="M227.00 48 L235.40 48 L231.20 55.6 Z" fill="#111"/>
<text stroke="#262626" x="263.0" y="34.4" font-size="9.0" text-anchor="middle" fill="#262626">C6</text>
<rect x="261.70" y="39.6" width="1.2" height="8.90" fill="#111"/>
<path d="M258.10 48 L266.50 48 L262.30 55.6 Z" fill="#111"/>
<text stroke="#262626" x="299.3" y="34.4" font-size="9.0" text-anchor="middle" fill="#262626">C7</text>
<rect x="299.10" y="39.6" width="1.2" height="8.90" fill="#111"/>
<path d="M295.50 48 L303.90 48 L299.70 55.6 Z" fill="#111"/>
<text stroke="#262626" x="313.3" y="34.4" font-size="9.0" text-anchor="middle" fill="#262626">C8</text>
<rect x="309.10" y="39.6" width="1.2" height="8.90" fill="#111"/>
<path d="M305.50 48 L313.90 48 L309.70 55.6 Z" fill="#111"/>
<text stroke="#262626" x="352.3" y="34.4" font-size="9.0" text-anchor="middle" fill="#262626">C9</text>
<rect x="351.30" y="39.6" width="1.2" height="8.90" fill="#111"/>
<path d="M347.70 48 L356.10 48 L351.90 55.6 Z" fill="#111"/>
<text stroke="#262626" x="426.8" y="34.4" font-size="9.0" text-anchor="middle" fill="#262626">C10</text>
<rect x="426.60" y="44.2" width="1.2" height="4.30" fill="#111"/>
<path d="M423.00 48 L431.40 48 L427.20 55.6 Z" fill="#111"/>
<rect x="106" y="57.9" width="15.20" height="3.5" fill="#c01e2c"/>
<rect x="166.3" y="57.9" width="18.70" height="3.5" fill="#c01e2c"/>
<rect x="187" y="57.9" width="10.10" height="3.5" fill="#c01e2c"/>
<rect x="213.8" y="57.9" width="6.20" height="3.5" fill="#c01e2c"/>
<rect x="227.3" y="57.9" width="7.70" height="3.5" fill="#c01e2c"/>
<rect x="252.4" y="57.9" width="19.10" height="3.5" fill="#c01e2c"/>
<rect x="298.6" y="57.9" width="14.50" height="3.5" fill="#c01e2c"/>
<rect x="348.9" y="57.9" width="6.50" height="3.5" fill="#c01e2c"/>
<rect x="425.9" y="57.9" width="3.40" height="3.5" fill="#c01e2c"/>
<rect x="106.10" y="63.1" width="1.4" height="5.1" fill="#4a4f80"/>
<rect x="110.00" y="63.1" width="1.4" height="5.1" fill="#8088b0"/>
<rect x="114.70" y="63.1" width="1.4" height="5.1" fill="#30366e"/>
<rect x="116.90" y="63.1" width="1.4" height="5.1" fill="#505688"/>
<rect x="119.20" y="63.1" width="1.4" height="5.1" fill="#30366e"/>
<rect x="166.30" y="63.1" width="1.4" height="5.1" fill="#8088a8"/>
<rect x="171.30" y="63.1" width="1.4" height="5.1" fill="#30366e"/>
<rect x="175.10" y="63.1" width="1.4" height="5.1" fill="#262a60"/>
<rect x="183.30" y="63.1" width="1.4" height="5.1" fill="#50557e"/>
<rect x="187.50" y="63.1" width="1.4" height="5.1" fill="#6a70a0"/>
<rect x="191.50" y="63.1" width="1.4" height="5.1" fill="#7078a0"/>
<rect x="194.20" y="63.1" width="1.4" height="5.1" fill="#9098b8"/>
<rect x="214.30" y="63.1" width="1.4" height="5.1" fill="#7078a0"/>
<rect x="218.30" y="63.1" width="1.4" height="5.1" fill="#3a3f70"/>
<rect x="227.90" y="63.1" width="1.4" height="5.1" fill="#5a6090"/>
<rect x="232.50" y="63.1" width="1.4" height="5.1" fill="#5a6090"/>
<rect x="253.00" y="63.1" width="1.4" height="5.1" fill="#7078a0"/>
<rect x="268.80" y="63.1" width="1.4" height="5.1" fill="#50557e"/>
<rect x="299.80" y="63.1" width="1.4" height="5.1" fill="#6a70a0"/>
<rect x="308.50" y="63.1" width="1.4" height="5.1" fill="#6a70a0"/>
<rect x="310.50" y="63.1" width="1.4" height="5.1" fill="#6a70a0"/>
<rect x="349.50" y="63.1" width="1.4" height="5.1" fill="#6a70a0"/>
<rect x="352.10" y="63.1" width="1.4" height="5.1" fill="#6a70a0"/>
<rect x="427.00" y="63.1" width="1.4" height="5.1" fill="#8088a8"/>
<text stroke="#262626" x="139.3" y="81.4" font-size="8.4" text-anchor="middle" fill="#262626">J</text>
<text stroke="#262626" x="216.3" y="81.4" font-size="8.4" text-anchor="middle" fill="#262626">p</text>
<text stroke="#262626" x="272.4" y="81.4" font-size="8.4" text-anchor="middle" fill="#262626">D</text>
<text stroke="#262626" x="298.6" y="81.4" font-size="8.4" text-anchor="middle" fill="#262626">E</text>
<text stroke="#262626" x="311.6" y="81.4" font-size="8.4" text-anchor="middle" fill="#262626">F</text>
<text stroke="#262626" x="322.7" y="81.4" font-size="8.4" text-anchor="middle" fill="#262626">G</text>
<text stroke="#262626" x="351.1" y="81.4" font-size="8.4" text-anchor="middle" fill="#262626">H</text>
<text stroke="#262626" x="387.5" y="81.4" font-size="8.4" text-anchor="middle" fill="#262626">I</text>
<rect x="138.1" y="89" width="2.50" height="7" fill="#e0a030"/>
<rect x="214.0" y="89" width="2.50" height="7" fill="#e8c030"/>
<rect x="268.5" y="89" width="5.70" height="7" fill="#6c84aa"/>
<rect x="297.7" y="89" width="2.80" height="7" fill="#70a040"/>
<rect x="311.8" y="89" width="1.50" height="7" fill="#b8a088"/>
<rect x="321.9" y="89" width="1.50" height="7" fill="#d8c89c"/>
<rect x="346.6" y="89" width="11.30" height="7" fill="#8cb4bc"/>
<rect x="386.8" y="89" width="2.20" height="7" fill="#7a5a70"/>
<rect x="168.5" y="102.25" width="270" height="1.3" fill="#3a3f90"/>
<rect x="216.65" y="99.0" width="1.3" height="8" fill="#3a3f90"/>
<rect x="240.75" y="99.0" width="1.3" height="8" fill="#3a3f90"/>
<rect x="370.55" y="99.0" width="1.3" height="8" fill="#3a3f90"/>
<rect x="376.65" y="99.0" width="1.3" height="8" fill="#3a3f90"/>
<rect x="388.05" y="99.0" width="1.3" height="8" fill="#3a3f90"/>
<rect x="395.85" y="99.0" width="1.3" height="8" fill="#3a3f90"/>
<rect x="402.05" y="99.0" width="1.3" height="8" fill="#3a3f90"/>
<rect x="411.45" y="99.0" width="1.3" height="8" fill="#3a3f90"/>
<path d="M436.6 99.6 L438.3 101.0 L449.0 101.0 L449.0 104.8 L438.3 104.8 L436.6 106.4 Z" fill="#3a3f90"/>
<path d="M171.0 101.7 L172.8 102.9 L171.0 104.1 Z" fill="#3a3f90" fill-opacity="0.8"/>
<path d="M179.3 101.7 L181.1 102.9 L179.3 104.1 Z" fill="#3a3f90" fill-opacity="0.8"/>
<path d="M223.8 101.7 L225.6 102.9 L223.8 104.1 Z" fill="#3a3f90" fill-opacity="0.8"/>
<path d="M231.5 101.7 L233.3 102.9 L231.5 104.1 Z" fill="#3a3f90" fill-opacity="0.8"/>
<path d="M248.0 101.7 L249.8 102.9 L248.0 104.1 Z" fill="#3a3f90" fill-opacity="0.8"/>
<path d="M264.2 101.7 L266.0 102.9 L264.2 104.1 Z" fill="#3a3f90" fill-opacity="0.8"/>
<path d="M280.5 101.7 L282.3 102.9 L280.5 104.1 Z" fill="#3a3f90" fill-opacity="0.8"/>
<path d="M297.0 101.7 L298.8 102.9 L297.0 104.1 Z" fill="#3a3f90" fill-opacity="0.8"/>
<path d="M313.0 101.7 L314.8 102.9 L313.0 104.1 Z" fill="#3a3f90" fill-opacity="0.8"/>
<path d="M329.5 101.7 L331.3 102.9 L329.5 104.1 Z" fill="#3a3f90" fill-opacity="0.8"/>
<path d="M346.0 101.7 L347.8 102.9 L346.0 104.1 Z" fill="#3a3f90" fill-opacity="0.8"/>
<path d="M362.5 101.7 L364.3 102.9 L362.5 104.1 Z" fill="#3a3f90" fill-opacity="0.8"/>
<path d="M381.0 101.7 L382.8 102.9 L381.0 104.1 Z" fill="#3a3f90" fill-opacity="0.8"/>
<path d="M397.5 101.7 L399.3 102.9 L397.5 104.1 Z" fill="#3a3f90" fill-opacity="0.8"/>
<path d="M418.6 101.7 L420.4 102.9 L418.6 104.1 Z" fill="#3a3f90" fill-opacity="0.8"/>
<path d="M427.5 101.7 L429.3 102.9 L427.5 104.1 Z" fill="#3a3f90" fill-opacity="0.8"/>
<rect x="166.5" y="97.6" width="2.8" height="9.4" rx="1.4" fill="#c6b6d8" stroke="#8670a8" stroke-width="0.8"/>
<rect x="182.4" y="97.6" width="2.9" height="9.4" rx="1.4" fill="#b2b8cf" stroke="#8088ac" stroke-width="0.8"/>
<path d="M217.2 101 L217.2 95.3 L225.6 95.3" stroke="#222" stroke-width="0.7" fill="none"/>
<path d="M224.8 94.1 L227.4 95.3 L224.8 96.5 Z" fill="#222"/>
<text stroke="#262626" x="33" y="108.2" font-size="9.8" font-style="italic" fill="#262626">Ikzf1</text>
<text stroke="#262626" x="138.5" y="116.3" font-size="9.1" fill="#262626">Exon: 1a</text>
<text stroke="#262626" x="186.2" y="116.3" font-size="9.1" text-anchor="middle" fill="#262626">1b</text>
<text stroke="#262626" x="216.9" y="116.3" font-size="9.1" text-anchor="middle" fill="#262626">2</text>
<text stroke="#262626" x="241.9" y="116.3" font-size="9.1" text-anchor="middle" fill="#262626">3</text>
<text stroke="#262626" x="372.5" y="116.3" font-size="9.1" text-anchor="middle" fill="#262626">4</text>
<text stroke="#262626" x="390.5" y="116.3" font-size="9.1" text-anchor="middle" fill="#262626">5</text>
<text stroke="#262626" x="403.5" y="116.3" font-size="9.1" text-anchor="middle" fill="#262626">6</text>
<text stroke="#262626" x="412.9" y="116.3" font-size="9.1" text-anchor="middle" fill="#262626">7</text>
<text stroke="#262626" x="445.5" y="116.3" font-size="9.1" text-anchor="middle" fill="#262626">8</text>
<rect x="434" y="131.0" width="16.8" height="1.0" fill="#333"/>
<text stroke="#333" x="442.6" y="139.8" font-size="7.3" text-anchor="middle" fill="#333">5kb</text>
<text stroke="#262626" x="32.8" y="135.7" font-size="8.2" fill="#262626">Previously tested:</text>
<rect x="159.8" y="128.2" width="16.40" height="6.8" fill="#3b3139"/>
<rect x="177.7" y="128.2" width="16.00" height="6.8" fill="#333d3c"/>
<rect x="214.6" y="128.2" width="1.70" height="6.8" fill="#3a3a3a"/>
<rect x="261.7" y="128.2" width="14.50" height="6.8" fill="#545590"/>
<text stroke="#5f5659" x="168.9" y="147.3" font-size="8.5" text-anchor="middle" fill="#5f5659">A</text>
<text stroke="#5f5659" x="189.8" y="147.3" font-size="8.5" text-anchor="middle" fill="#5f5659">B</text>
<text stroke="#5f5659" x="215.4" y="147.3" font-size="8.5" text-anchor="middle" fill="#5f5659">p</text>
<text stroke="#5f5659" x="270.9" y="147.3" font-size="8.5" text-anchor="middle" fill="#5f5659">C</text>
<text stroke="#262626" x="4.4" y="160.80" font-size="10.0" fill="#262626">H3K4me1</text>
<text stroke="#3a3a3a" x="60.4" y="156.20" font-size="4.5" fill="#3a3a3a">[0-100]</text>
<text stroke="#262626" x="4.4" y="183.18" font-size="10.0" fill="#262626">H3K4me2</text>
<text stroke="#3a3a3a" x="60.4" y="177.70" font-size="4.5" fill="#3a3a3a">[0-100]</text>
<text stroke="#262626" x="4.4" y="205.56" font-size="10.0" fill="#262626">H3K4me3</text>
<text stroke="#3a3a3a" x="60.4" y="198.80" font-size="4.5" fill="#3a3a3a">[0-100]</text>
<text stroke="#262626" x="4.4" y="227.94" font-size="10.0" fill="#262626">H3K9Ac</text>
<text stroke="#3a3a3a" x="60.4" y="220.70" font-size="4.5" fill="#3a3a3a">[0-50]</text>
<text stroke="#262626" x="4.4" y="250.32" font-size="10.0" fill="#262626">pII S2</text>
<text stroke="#3a3a3a" x="60.4" y="243.20" font-size="4.5" fill="#3a3a3a">[0-20]</text>
<text stroke="#262626" x="4.4" y="272.70" font-size="10.0" fill="#262626">pII S5</text>
<text stroke="#3a3a3a" x="60.4" y="264.90" font-size="4.5" fill="#3a3a3a">[0-20]</text>
<text stroke="#262626" x="4.4" y="295.08" font-size="10.0" fill="#262626">pII 8WG16</text>
<text stroke="#3a3a3a" x="60.4" y="286.10" font-size="4.5" fill="#3a3a3a">[0-20]</text>
<text stroke="#262626" x="4.4" y="317.46" font-size="10.0" fill="#262626">H3K36me3</text>
<text stroke="#3a3a3a" x="60.4" y="307.80" font-size="4.5" fill="#3a3a3a">[0-50]</text>
<text stroke="#262626" x="4.4" y="339.84" font-size="10.0" fill="#262626">H3K27Ac</text>
<rect x="59.2" y="321.10" width="17.5" height="4.6" fill="#fafafa"/>
<text stroke="#3a3a3a" x="60.4" y="324.80" font-size="4.5" fill="#3a3a3a">[0-400]</text>
<text stroke="#262626" x="4.4" y="362.22" font-size="10.0" fill="#262626">p300</text>
<text stroke="#3a3a3a" x="60.4" y="348.00" font-size="4.5" fill="#3a3a3a">[0-25]</text>
</svg>
</body></html>
